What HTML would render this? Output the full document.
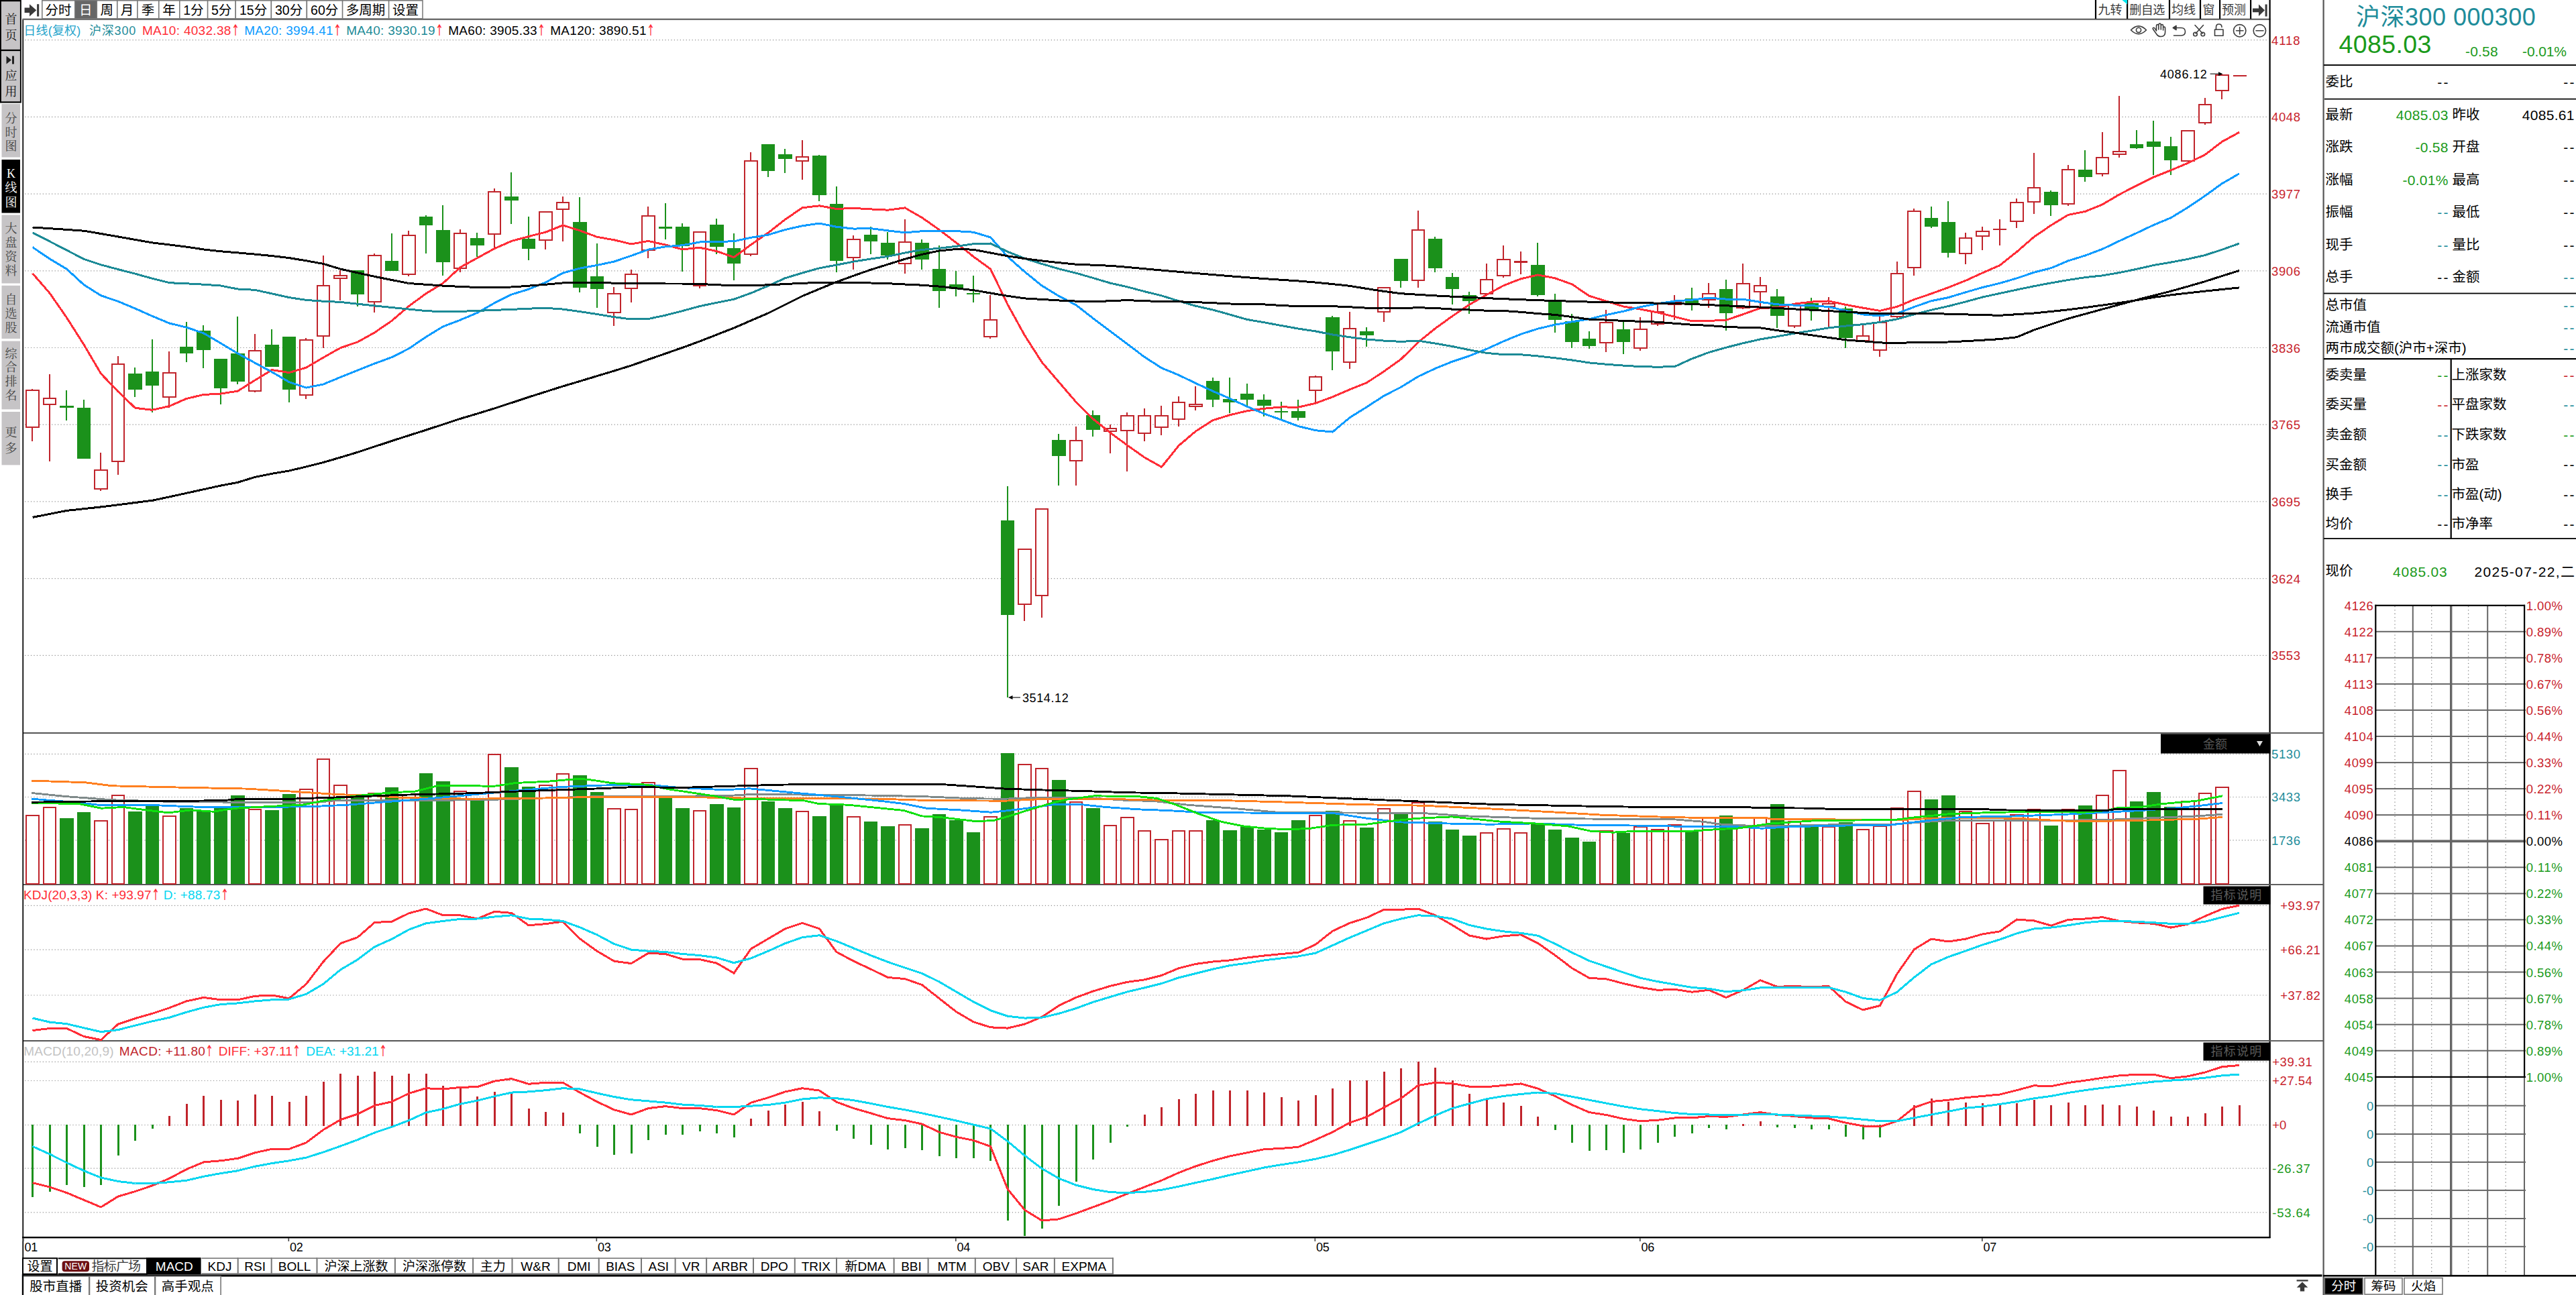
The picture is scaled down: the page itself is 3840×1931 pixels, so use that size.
<!DOCTYPE html>
<html><head><meta charset="utf-8"><title>沪深300</title>
<style>
html,body{margin:0;padding:0;background:#fff;}
body{width:3840px;height:1931px;position:relative;overflow:hidden;font-family:'Liberation Sans','Noto Sans CJK SC',sans-serif;}
svg{position:absolute;left:0;top:0;}
.t{position:absolute;white-space:nowrap;}
.a{color:#FF2D37;font-family:'DejaVu Sans',sans-serif;font-size:19px;letter-spacing:0;display:inline-block;transform:scale(0.74,1.2);transform-origin:0 60%;margin-right:-5px;}
</style></head><body>
<svg width="3840" height="1931" viewBox="0 0 3840 1931">
<rect x="0" y="0" width="31.8" height="153.5" fill="#000"/>
<rect x="1.9" y="2.2" width="28" height="71.6" fill="#C6C4C6"/>
<rect x="1.9" y="76.1" width="28" height="75.2" fill="#C6C4C6"/>
<rect x="2.5" y="155" width="27.5" height="79.5" fill="#C6C4C6"/>
<rect x="2.5" y="238" width="27.5" height="79.5" fill="#000"/>
<rect x="2.5" y="320.5" width="27.5" height="102" fill="#C6C4C6"/>
<rect x="2.5" y="425.8" width="27.5" height="79.2" fill="#C6C4C6"/>
<rect x="2.5" y="508.6" width="27.5" height="101.8" fill="#C6C4C6"/>
<rect x="2.5" y="614" width="27.5" height="79.4" fill="#C6C4C6"/>
<path d="M9.5 83.5 L17 89.5 L9.5 95.5 Z" fill="#222"/>
<rect x="18" y="83.5" width="3" height="12" fill="#222"/>
<rect x="33.4" y="28.6" width="1.7" height="1903" fill="#000"/>
<rect x="33.4" y="27.6" width="3351" height="2.3" fill="#666"/>
<rect x="3382.5" y="0" width="2.2" height="1846" fill="#000"/>
<rect x="35" y="1092" width="3428" height="2" fill="#555"/>
<rect x="35" y="1318" width="3428" height="2" fill="#555"/>
<rect x="35" y="1551" width="3428" height="2" fill="#555"/>
<rect x="33" y="1844" width="3351.5" height="2.4" fill="#000"/>
<rect x="33" y="1900" width="3428.5" height="1.2" fill="#666"/>
<rect x="33" y="1901" width="3428.5" height="2.6" fill="#000"/>
<rect x="3462.5" y="0" width="2.2" height="1931" fill="#555"/>
<rect x="62.8" y="0.8" width="49" height="27" fill="#fff" stroke="#777" stroke-width="1.5"/>
<rect x="111.8" y="0.8" width="32.6" height="27" fill="#666" stroke="#777" stroke-width="1.5"/>
<rect x="144.3" y="0.8" width="30.4" height="27" fill="#fff" stroke="#777" stroke-width="1.5"/>
<rect x="174.8" y="0.8" width="30.2" height="27" fill="#fff" stroke="#777" stroke-width="1.5"/>
<rect x="204.9" y="0.8" width="31.8" height="27" fill="#fff" stroke="#777" stroke-width="1.5"/>
<rect x="236.8" y="0.8" width="31" height="27" fill="#fff" stroke="#777" stroke-width="1.5"/>
<rect x="267.8" y="0.8" width="41.8" height="27" fill="#fff" stroke="#777" stroke-width="1.5"/>
<rect x="309.6" y="0.8" width="41.7" height="27" fill="#fff" stroke="#777" stroke-width="1.5"/>
<rect x="351.2" y="0.8" width="53.2" height="27" fill="#fff" stroke="#777" stroke-width="1.5"/>
<rect x="404.4" y="0.8" width="52.9" height="27" fill="#fff" stroke="#777" stroke-width="1.5"/>
<rect x="457.4" y="0.8" width="53.2" height="27" fill="#fff" stroke="#777" stroke-width="1.5"/>
<rect x="510.6" y="0.8" width="69.1" height="27" fill="#fff" stroke="#777" stroke-width="1.5"/>
<rect x="579.6" y="0.8" width="50.4" height="27" fill="#fff" stroke="#777" stroke-width="1.5"/>
<path d="M36.6 11.6 L44 11.6 L44 6.2 L54.3 15.3 L44 24.5 L44 19 L36.6 19 Z" fill="#3a3a3a"/>
<rect x="55.1" y="6.2" width="3.1" height="18.3" fill="#3a3a3a"/>
<rect x="3122.9" y="0" width="2.2" height="28" fill="#000"/>
<rect x="3170" y="0" width="2.2" height="28" fill="#000"/>
<rect x="3232.9" y="0" width="2.2" height="28" fill="#000"/>
<rect x="3278.9" y="0" width="2.2" height="28" fill="#000"/>
<rect x="3308" y="0" width="2.2" height="28" fill="#000"/>
<rect x="3354" y="0" width="2.2" height="28" fill="#000"/>
<path d="M3163.5 0 L3171 0 L3171 6.6 Z" fill="#00E5EE"/>
<path d="M3358 12.5 L3367 12.5 L3367 6.5 L3376 15.3 L3367 24 L3367 18.2 L3358 18.2 Z" fill="#3a3a3a"/>
<rect x="3376.6" y="6.5" width="3" height="18" fill="#3a3a3a"/>
<g stroke="#3c3c3c" stroke-width="1.6" fill="none" stroke-linecap="round" stroke-linejoin="round">
<path d="M3176.5 44.8 Q3188 33 3199.5 44.8 Q3188 56.5 3176.5 44.8 Z"/><circle cx="3188" cy="44.8" r="3.6"/>
<path d="M3214.5 46 V39 Q3214.5 36.5 3216.2 36.5 Q3217.8 36.5 3217.8 39 V44 M3217.8 38 Q3217.8 35 3219.6 35 Q3221.3 35 3221.3 38 V44 M3221.3 39 Q3221.3 36.5 3223 36.5 Q3224.6 36.5 3224.6 39 V45 M3224.6 42 Q3224.6 40 3226.2 40 Q3227.6 40 3227.6 42.5 V48 Q3227.6 54.5 3221.5 54.5 Q3217 54.5 3214.8 51 L3209.5 43.5 Q3208.6 41.5 3210.3 41.2 Q3211.8 41 3214.5 46"/>
<path d="M3242 41.5 H3251.5 Q3257.5 41.5 3257.5 47.3 Q3257.5 53 3251.5 53 H3240.5"/><path d="M3244 38.3 L3239.3 41.5 L3244 44.5 Z" fill="#3c3c3c"/>
<path d="M3272 37.5 L3283.5 50 M3284.5 37.5 L3273 50"/><circle cx="3272.5" cy="51" r="2.8"/><circle cx="3283.8" cy="51" r="2.8"/>
<rect x="3301.5" y="44" width="12.5" height="9.3"/><path d="M3303.5 44 V40.5 Q3303.5 36 3307.7 36 Q3312 36 3312 40.5"/>
<circle cx="3338.7" cy="45.8" r="9.2"/><path d="M3333.5 45.8 H3344 M3338.7 40.5 V51"/>
<circle cx="3368.4" cy="45.8" r="9.2"/><path d="M3363 45.8 H3374"/>
</g>
<line x1="37" y1="59.7" x2="3382" y2="59.7" stroke="#8e8e8e" stroke-width="1.2" stroke-dasharray="1.2 3.26"/>
<line x1="37" y1="174.4" x2="3382" y2="174.4" stroke="#8e8e8e" stroke-width="1.2" stroke-dasharray="1.2 3.26"/>
<line x1="37" y1="289.1" x2="3382" y2="289.1" stroke="#8e8e8e" stroke-width="1.2" stroke-dasharray="1.2 3.26"/>
<line x1="37" y1="403.8" x2="3382" y2="403.8" stroke="#8e8e8e" stroke-width="1.2" stroke-dasharray="1.2 3.26"/>
<line x1="37" y1="518.5" x2="3382" y2="518.5" stroke="#8e8e8e" stroke-width="1.2" stroke-dasharray="1.2 3.26"/>
<line x1="37" y1="633.2" x2="3382" y2="633.2" stroke="#8e8e8e" stroke-width="1.2" stroke-dasharray="1.2 3.26"/>
<line x1="37" y1="747.9" x2="3382" y2="747.9" stroke="#8e8e8e" stroke-width="1.2" stroke-dasharray="1.2 3.26"/>
<line x1="37" y1="862.6" x2="3382" y2="862.6" stroke="#8e8e8e" stroke-width="1.2" stroke-dasharray="1.2 3.26"/>
<line x1="37" y1="977.3" x2="3382" y2="977.3" stroke="#8e8e8e" stroke-width="1.2" stroke-dasharray="1.2 3.26"/>
<line x1="37" y1="1124.4" x2="3382" y2="1124.4" stroke="#8e8e8e" stroke-width="1.2" stroke-dasharray="1.2 3.26"/>
<line x1="37" y1="1188.5" x2="3382" y2="1188.5" stroke="#8e8e8e" stroke-width="1.2" stroke-dasharray="1.2 3.26"/>
<line x1="37" y1="1252.9" x2="3382" y2="1252.9" stroke="#8e8e8e" stroke-width="1.2" stroke-dasharray="1.2 3.26"/>
<line x1="37" y1="1350.4" x2="3382" y2="1350.4" stroke="#8e8e8e" stroke-width="1.2" stroke-dasharray="1.2 3.26"/>
<line x1="37" y1="1416.1" x2="3382" y2="1416.1" stroke="#8e8e8e" stroke-width="1.2" stroke-dasharray="1.2 3.26"/>
<line x1="37" y1="1484" x2="3382" y2="1484" stroke="#8e8e8e" stroke-width="1.2" stroke-dasharray="1.2 3.26"/>
<line x1="37" y1="1583.4" x2="3382" y2="1583.4" stroke="#8e8e8e" stroke-width="1.2" stroke-dasharray="1.2 3.26"/>
<line x1="37" y1="1611.5" x2="3382" y2="1611.5" stroke="#8e8e8e" stroke-width="1.2" stroke-dasharray="1.2 3.26"/>
<line x1="37" y1="1677.5" x2="3382" y2="1677.5" stroke="#8e8e8e" stroke-width="1.2" stroke-dasharray="1.2 3.26"/>
<line x1="37" y1="1742.2" x2="3382" y2="1742.2" stroke="#8e8e8e" stroke-width="1.2" stroke-dasharray="1.2 3.26"/>
<line x1="37" y1="1807.8" x2="3382" y2="1807.8" stroke="#8e8e8e" stroke-width="1.2" stroke-dasharray="1.2 3.26"/>
<rect x="3384.5" y="1092.2" width="78" height="1.5" fill="#666"/>
<rect x="3384.5" y="1318.2" width="78" height="1.5" fill="#666"/>
<rect x="3384.5" y="1551.2" width="78" height="1.5" fill="#666"/>
<g shape-rendering="crispEdges">
<rect x="47" y="579.7" width="2" height="1" fill="#C0242B"/>
<rect x="47" y="637.5" width="2" height="20.1" fill="#C0242B"/>
<rect x="39.3" y="581.7" width="18.4" height="54.8" fill="#fff" stroke="#C0242B" stroke-width="2"/>
<rect x="72.5" y="558.2" width="2" height="34.6" fill="#C0242B"/>
<rect x="72.5" y="604.4" width="2" height="83.3" fill="#C0242B"/>
<rect x="64.8" y="593.8" width="18.4" height="9.6" fill="#fff" stroke="#C0242B" stroke-width="2"/>
<rect x="98" y="582.3" width="2" height="22.9" fill="#1B911B"/>
<rect x="98" y="607.9" width="2" height="19" fill="#1B911B"/>
<rect x="89.3" y="605.2" width="20.4" height="2.7" fill="#1B911B"/>
<rect x="123.5" y="596.4" width="2" height="12" fill="#1B911B"/>
<rect x="114.8" y="608.4" width="20.4" height="75.3" fill="#1B911B"/>
<rect x="149" y="675.3" width="2" height="25.1" fill="#C0242B"/>
<rect x="149" y="730.3" width="2" height="1.2" fill="#C0242B"/>
<rect x="141.3" y="701.4" width="18.4" height="27.9" fill="#fff" stroke="#C0242B" stroke-width="2"/>
<rect x="174.5" y="531.1" width="2" height="10.7" fill="#C0242B"/>
<rect x="174.5" y="689.1" width="2" height="18.7" fill="#C0242B"/>
<rect x="166.8" y="542.8" width="18.4" height="145.3" fill="#fff" stroke="#C0242B" stroke-width="2"/>
<rect x="200" y="548.2" width="2" height="9" fill="#1B911B"/>
<rect x="200" y="580.7" width="2" height="11.3" fill="#1B911B"/>
<rect x="191.3" y="557.2" width="20.4" height="23.5" fill="#1B911B"/>
<rect x="225.5" y="506" width="2" height="48.2" fill="#1B911B"/>
<rect x="225.5" y="574.7" width="2" height="40.1" fill="#1B911B"/>
<rect x="216.8" y="554.2" width="20.4" height="20.5" fill="#1B911B"/>
<rect x="251" y="524.1" width="2" height="30.5" fill="#C0242B"/>
<rect x="251" y="593.4" width="2" height="15" fill="#C0242B"/>
<rect x="243.3" y="555.6" width="18.4" height="36.8" fill="#fff" stroke="#C0242B" stroke-width="2"/>
<rect x="276.5" y="480.4" width="2" height="36.7" fill="#1B911B"/>
<rect x="276.5" y="526.7" width="2" height="13.1" fill="#1B911B"/>
<rect x="267.8" y="517.1" width="20.4" height="9.6" fill="#1B911B"/>
<rect x="302" y="485" width="2" height="8" fill="#1B911B"/>
<rect x="302" y="521.7" width="2" height="27.1" fill="#1B911B"/>
<rect x="293.3" y="493" width="20.4" height="28.7" fill="#1B911B"/>
<rect x="327.5" y="578.7" width="2" height="24.1" fill="#1B911B"/>
<rect x="318.8" y="535.1" width="20.4" height="43.6" fill="#1B911B"/>
<rect x="353" y="471.5" width="2" height="55.9" fill="#1B911B"/>
<rect x="353" y="568.5" width="2" height="4.2" fill="#1B911B"/>
<rect x="344.3" y="527.4" width="20.4" height="41.1" fill="#1B911B"/>
<rect x="378.5" y="498.4" width="2" height="23.3" fill="#C0242B"/>
<rect x="378.5" y="584.1" width="2" height="1.3" fill="#C0242B"/>
<rect x="370.8" y="522.7" width="18.4" height="60.4" fill="#fff" stroke="#C0242B" stroke-width="2"/>
<rect x="404" y="490.9" width="2" height="23.4" fill="#1B911B"/>
<rect x="395.3" y="514.3" width="20.4" height="33" fill="#1B911B"/>
<rect x="429.5" y="581.4" width="2" height="18.2" fill="#1B911B"/>
<rect x="420.8" y="502" width="20.4" height="79.4" fill="#1B911B"/>
<rect x="455" y="504.3" width="2" height="1.3" fill="#C0242B"/>
<rect x="455" y="590.1" width="2" height="4.5" fill="#C0242B"/>
<rect x="447.3" y="506.6" width="18.4" height="82.5" fill="#fff" stroke="#C0242B" stroke-width="2"/>
<rect x="480.5" y="381.2" width="2" height="43.6" fill="#C0242B"/>
<rect x="480.5" y="502.1" width="2" height="17.1" fill="#C0242B"/>
<rect x="472.8" y="425.8" width="18.4" height="75.3" fill="#fff" stroke="#C0242B" stroke-width="2"/>
<rect x="506" y="403.1" width="2" height="7.7" fill="#C0242B"/>
<rect x="506" y="415.1" width="2" height="32.8" fill="#C0242B"/>
<rect x="498.3" y="410.8" width="18.4" height="4.3" fill="#fff" stroke="#C0242B" stroke-width="2"/>
<rect x="499.3" y="412.4" width="16.4" height="1.1" fill="#fff"/>
<rect x="531.5" y="439.4" width="2" height="17.2" fill="#1B911B"/>
<rect x="522.8" y="403" width="20.4" height="36.4" fill="#1B911B"/>
<rect x="557" y="378.3" width="2" height="1.2" fill="#C0242B"/>
<rect x="557" y="451.1" width="2" height="14.7" fill="#C0242B"/>
<rect x="549.3" y="380.5" width="18.4" height="69.6" fill="#fff" stroke="#C0242B" stroke-width="2"/>
<rect x="582.5" y="347.9" width="2" height="41.3" fill="#1B911B"/>
<rect x="573.8" y="389.2" width="20.4" height="14.7" fill="#1B911B"/>
<rect x="608" y="344" width="2" height="5.7" fill="#C0242B"/>
<rect x="608" y="410.3" width="2" height="1.5" fill="#C0242B"/>
<rect x="600.3" y="350.7" width="18.4" height="58.6" fill="#fff" stroke="#C0242B" stroke-width="2"/>
<rect x="633.5" y="321.1" width="2" height="2" fill="#1B911B"/>
<rect x="633.5" y="335.5" width="2" height="42" fill="#1B911B"/>
<rect x="624.8" y="323.1" width="20.4" height="12.4" fill="#1B911B"/>
<rect x="659" y="306.2" width="2" height="36.8" fill="#1B911B"/>
<rect x="659" y="391.4" width="2" height="19.4" fill="#1B911B"/>
<rect x="650.3" y="343" width="20.4" height="48.4" fill="#1B911B"/>
<rect x="684.5" y="342.2" width="2" height="4.5" fill="#C0242B"/>
<rect x="684.5" y="401.1" width="2" height="4.5" fill="#C0242B"/>
<rect x="676.8" y="347.7" width="18.4" height="52.4" fill="#fff" stroke="#C0242B" stroke-width="2"/>
<rect x="710" y="347.2" width="2" height="8.2" fill="#1B911B"/>
<rect x="710" y="365.6" width="2" height="17.6" fill="#1B911B"/>
<rect x="701.3" y="355.4" width="20.4" height="10.2" fill="#1B911B"/>
<rect x="735.5" y="281" width="2" height="3.8" fill="#C0242B"/>
<rect x="735.5" y="349.9" width="2" height="19.2" fill="#C0242B"/>
<rect x="727.8" y="285.8" width="18.4" height="63.1" fill="#fff" stroke="#C0242B" stroke-width="2"/>
<rect x="761" y="256.7" width="2" height="36.5" fill="#1B911B"/>
<rect x="761" y="298.7" width="2" height="35.3" fill="#1B911B"/>
<rect x="752.3" y="293.2" width="20.4" height="5.5" fill="#1B911B"/>
<rect x="786.5" y="323.1" width="2" height="33" fill="#1B911B"/>
<rect x="786.5" y="370.6" width="2" height="17.1" fill="#1B911B"/>
<rect x="777.8" y="356.1" width="20.4" height="14.5" fill="#1B911B"/>
<rect x="812" y="359.1" width="2" height="12.5" fill="#C0242B"/>
<rect x="804.3" y="315.6" width="18.4" height="42.5" fill="#fff" stroke="#C0242B" stroke-width="2"/>
<rect x="837.5" y="293" width="2" height="8.4" fill="#C0242B"/>
<rect x="837.5" y="313.4" width="2" height="46.2" fill="#C0242B"/>
<rect x="829.8" y="302.4" width="18.4" height="10" fill="#fff" stroke="#C0242B" stroke-width="2"/>
<rect x="863" y="294.2" width="2" height="37.1" fill="#1B911B"/>
<rect x="863" y="428.5" width="2" height="7.2" fill="#1B911B"/>
<rect x="854.3" y="331.3" width="20.4" height="97.2" fill="#1B911B"/>
<rect x="888.5" y="363.3" width="2" height="49" fill="#1B911B"/>
<rect x="888.5" y="430.5" width="2" height="28.1" fill="#1B911B"/>
<rect x="879.8" y="412.3" width="20.4" height="18.2" fill="#1B911B"/>
<rect x="914" y="428.3" width="2" height="8.5" fill="#C0242B"/>
<rect x="914" y="467.4" width="2" height="18.1" fill="#C0242B"/>
<rect x="906.3" y="437.8" width="18.4" height="28.6" fill="#fff" stroke="#C0242B" stroke-width="2"/>
<rect x="939.5" y="402.3" width="2" height="5.5" fill="#C0242B"/>
<rect x="939.5" y="431.3" width="2" height="19.3" fill="#C0242B"/>
<rect x="931.8" y="408.8" width="18.4" height="21.5" fill="#fff" stroke="#C0242B" stroke-width="2"/>
<rect x="965" y="308.3" width="2" height="12.4" fill="#C0242B"/>
<rect x="965" y="374.2" width="2" height="10.4" fill="#C0242B"/>
<rect x="957.3" y="321.7" width="18.4" height="51.5" fill="#fff" stroke="#C0242B" stroke-width="2"/>
<rect x="990.5" y="303.3" width="2" height="34.9" fill="#1B911B"/>
<rect x="990.5" y="341" width="2" height="15.7" fill="#1B911B"/>
<rect x="981.8" y="338.2" width="20.4" height="2.8" fill="#1B911B"/>
<rect x="1016" y="333.1" width="2" height="5.2" fill="#1B911B"/>
<rect x="1016" y="366.7" width="2" height="37.8" fill="#1B911B"/>
<rect x="1007.3" y="338.3" width="20.4" height="28.4" fill="#1B911B"/>
<rect x="1041.5" y="427.1" width="2" height="2.5" fill="#C0242B"/>
<rect x="1033.8" y="345.8" width="18.4" height="80.3" fill="#fff" stroke="#C0242B" stroke-width="2"/>
<rect x="1067" y="326.4" width="2" height="8.7" fill="#1B911B"/>
<rect x="1067" y="367.7" width="2" height="10.9" fill="#1B911B"/>
<rect x="1058.3" y="335.1" width="20.4" height="32.6" fill="#1B911B"/>
<rect x="1092.5" y="348.3" width="2" height="21.9" fill="#1B911B"/>
<rect x="1092.5" y="392.5" width="2" height="25.2" fill="#1B911B"/>
<rect x="1083.8" y="370.2" width="20.4" height="22.3" fill="#1B911B"/>
<rect x="1118" y="227" width="2" height="12.4" fill="#C0242B"/>
<rect x="1118" y="380.4" width="2" height="1.2" fill="#C0242B"/>
<rect x="1110.3" y="240.4" width="18.4" height="139" fill="#fff" stroke="#C0242B" stroke-width="2"/>
<rect x="1143.5" y="254.7" width="2" height="9.2" fill="#1B911B"/>
<rect x="1134.8" y="215.1" width="20.4" height="39.6" fill="#1B911B"/>
<rect x="1169" y="222" width="2" height="8" fill="#1B911B"/>
<rect x="1169" y="236.8" width="2" height="21" fill="#1B911B"/>
<rect x="1160.3" y="230" width="20.4" height="6.8" fill="#1B911B"/>
<rect x="1194.5" y="209" width="2" height="24.2" fill="#C0242B"/>
<rect x="1194.5" y="241.4" width="2" height="26.5" fill="#C0242B"/>
<rect x="1186.8" y="234.2" width="18.4" height="6.2" fill="#fff" stroke="#C0242B" stroke-width="2"/>
<rect x="1220" y="231" width="2" height="1.2" fill="#1B911B"/>
<rect x="1220" y="290.7" width="2" height="9.2" fill="#1B911B"/>
<rect x="1211.3" y="232.2" width="20.4" height="58.5" fill="#1B911B"/>
<rect x="1245.5" y="278.2" width="2" height="26" fill="#1B911B"/>
<rect x="1245.5" y="388.6" width="2" height="17.1" fill="#1B911B"/>
<rect x="1236.8" y="304.2" width="20.4" height="84.4" fill="#1B911B"/>
<rect x="1271" y="351.3" width="2" height="4.5" fill="#C0242B"/>
<rect x="1271" y="385.1" width="2" height="16.7" fill="#C0242B"/>
<rect x="1263.3" y="356.8" width="18.4" height="27.3" fill="#fff" stroke="#C0242B" stroke-width="2"/>
<rect x="1296.5" y="338.1" width="2" height="11.9" fill="#1B911B"/>
<rect x="1296.5" y="359.7" width="2" height="18.9" fill="#1B911B"/>
<rect x="1287.8" y="350" width="20.4" height="9.7" fill="#1B911B"/>
<rect x="1322" y="346.1" width="2" height="16.1" fill="#1B911B"/>
<rect x="1322" y="380.6" width="2" height="6" fill="#1B911B"/>
<rect x="1313.3" y="362.2" width="20.4" height="18.4" fill="#1B911B"/>
<rect x="1347.5" y="327.4" width="2" height="32.3" fill="#C0242B"/>
<rect x="1347.5" y="394" width="2" height="13.7" fill="#C0242B"/>
<rect x="1339.8" y="360.7" width="18.4" height="32.3" fill="#fff" stroke="#C0242B" stroke-width="2"/>
<rect x="1373" y="357" width="2" height="5.2" fill="#1B911B"/>
<rect x="1373" y="386.6" width="2" height="15.2" fill="#1B911B"/>
<rect x="1364.3" y="362.2" width="20.4" height="24.4" fill="#1B911B"/>
<rect x="1398.5" y="366.2" width="2" height="35.1" fill="#1B911B"/>
<rect x="1398.5" y="433.6" width="2" height="25.1" fill="#1B911B"/>
<rect x="1389.8" y="401.3" width="20.4" height="32.3" fill="#1B911B"/>
<rect x="1424" y="404.2" width="2" height="19.9" fill="#1B911B"/>
<rect x="1424" y="431.3" width="2" height="10.5" fill="#1B911B"/>
<rect x="1415.3" y="424.1" width="20.4" height="7.2" fill="#1B911B"/>
<rect x="1449.5" y="411" width="2" height="26" fill="#1B911B"/>
<rect x="1449.5" y="439.2" width="2" height="11.5" fill="#1B911B"/>
<rect x="1440.8" y="437" width="20.4" height="2.4" fill="#1B911B"/>
<rect x="1475" y="440" width="2" height="35.6" fill="#C0242B"/>
<rect x="1475" y="503" width="2" height="1.7" fill="#C0242B"/>
<rect x="1467.3" y="476.6" width="18.4" height="25.4" fill="#fff" stroke="#C0242B" stroke-width="2"/>
<rect x="1500.5" y="725.3" width="2" height="50.7" fill="#1B911B"/>
<rect x="1500.5" y="916.5" width="2" height="123.3" fill="#1B911B"/>
<rect x="1491.8" y="776" width="20.4" height="140.5" fill="#1B911B"/>
<rect x="1526" y="902.3" width="2" height="24.1" fill="#C0242B"/>
<rect x="1518.3" y="818.7" width="18.4" height="82.6" fill="#fff" stroke="#C0242B" stroke-width="2"/>
<rect x="1551.5" y="889" width="2" height="31.5" fill="#C0242B"/>
<rect x="1543.8" y="759.4" width="18.4" height="128.6" fill="#fff" stroke="#C0242B" stroke-width="2"/>
<rect x="1577" y="647" width="2" height="9" fill="#1B911B"/>
<rect x="1577" y="679.6" width="2" height="44.5" fill="#1B911B"/>
<rect x="1568.3" y="656" width="20.4" height="23.6" fill="#1B911B"/>
<rect x="1602.5" y="636.1" width="2" height="19.4" fill="#C0242B"/>
<rect x="1602.5" y="688.3" width="2" height="35.8" fill="#C0242B"/>
<rect x="1594.8" y="656.5" width="18.4" height="30.8" fill="#fff" stroke="#C0242B" stroke-width="2"/>
<rect x="1628" y="612" width="2" height="7.2" fill="#1B911B"/>
<rect x="1628" y="640.6" width="2" height="10.2" fill="#1B911B"/>
<rect x="1619.3" y="619.2" width="20.4" height="21.4" fill="#1B911B"/>
<rect x="1653.5" y="633.3" width="2" height="4.3" fill="#C0242B"/>
<rect x="1653.5" y="644.3" width="2" height="31.6" fill="#C0242B"/>
<rect x="1645.8" y="638.6" width="18.4" height="4.7" fill="#fff" stroke="#C0242B" stroke-width="2"/>
<rect x="1679" y="615.2" width="2" height="4.2" fill="#C0242B"/>
<rect x="1679" y="643" width="2" height="60" fill="#C0242B"/>
<rect x="1671.3" y="620.4" width="18.4" height="21.6" fill="#fff" stroke="#C0242B" stroke-width="2"/>
<rect x="1704.5" y="609" width="2" height="10.4" fill="#C0242B"/>
<rect x="1704.5" y="647.3" width="2" height="10.7" fill="#C0242B"/>
<rect x="1696.8" y="620.4" width="18.4" height="25.9" fill="#fff" stroke="#C0242B" stroke-width="2"/>
<rect x="1730" y="605" width="2" height="14.4" fill="#C0242B"/>
<rect x="1730" y="638.3" width="2" height="10.5" fill="#C0242B"/>
<rect x="1722.3" y="620.4" width="18.4" height="16.9" fill="#fff" stroke="#C0242B" stroke-width="2"/>
<rect x="1755.5" y="591.1" width="2" height="7.4" fill="#C0242B"/>
<rect x="1755.5" y="626.4" width="2" height="9.4" fill="#C0242B"/>
<rect x="1747.8" y="599.5" width="18.4" height="25.9" fill="#fff" stroke="#C0242B" stroke-width="2"/>
<rect x="1781" y="576.2" width="2" height="25.6" fill="#C0242B"/>
<rect x="1781" y="607" width="2" height="5" fill="#C0242B"/>
<rect x="1773.3" y="602.8" width="18.4" height="3.2" fill="#fff" stroke="#C0242B" stroke-width="2"/>
<rect x="1806.5" y="563" width="2" height="5" fill="#1B911B"/>
<rect x="1806.5" y="595.6" width="2" height="11.1" fill="#1B911B"/>
<rect x="1797.8" y="568" width="20.4" height="27.6" fill="#1B911B"/>
<rect x="1832" y="563" width="2" height="32.3" fill="#1B911B"/>
<rect x="1832" y="599.5" width="2" height="16.4" fill="#1B911B"/>
<rect x="1823.3" y="595.3" width="20.4" height="4.2" fill="#1B911B"/>
<rect x="1857.5" y="571.9" width="2" height="15.2" fill="#1B911B"/>
<rect x="1857.5" y="595.6" width="2" height="9.2" fill="#1B911B"/>
<rect x="1848.8" y="587.1" width="20.4" height="8.5" fill="#1B911B"/>
<rect x="1883" y="588.1" width="2" height="8.2" fill="#1B911B"/>
<rect x="1883" y="604.8" width="2" height="16.4" fill="#1B911B"/>
<rect x="1874.3" y="596.3" width="20.4" height="8.5" fill="#1B911B"/>
<rect x="1908.5" y="599" width="2" height="13.7" fill="#1B911B"/>
<rect x="1908.5" y="614.9" width="2" height="10.2" fill="#1B911B"/>
<rect x="1899.8" y="612.7" width="20.4" height="2.4" fill="#1B911B"/>
<rect x="1934" y="596" width="2" height="17" fill="#1B911B"/>
<rect x="1934" y="622.7" width="2" height="4.4" fill="#1B911B"/>
<rect x="1925.3" y="613" width="20.4" height="9.7" fill="#1B911B"/>
<rect x="1959.5" y="559.8" width="2" height="0.7" fill="#C0242B"/>
<rect x="1959.5" y="583" width="2" height="18.5" fill="#C0242B"/>
<rect x="1951.8" y="561.5" width="18.4" height="20.5" fill="#fff" stroke="#C0242B" stroke-width="2"/>
<rect x="1985" y="471" width="2" height="2.2" fill="#1B911B"/>
<rect x="1985" y="523.7" width="2" height="27.9" fill="#1B911B"/>
<rect x="1976.3" y="473.2" width="20.4" height="50.5" fill="#1B911B"/>
<rect x="2010.5" y="465.3" width="2" height="23.4" fill="#C0242B"/>
<rect x="2010.5" y="541.1" width="2" height="8.7" fill="#C0242B"/>
<rect x="2002.8" y="489.7" width="18.4" height="50.4" fill="#fff" stroke="#C0242B" stroke-width="2"/>
<rect x="2036" y="488.2" width="2" height="6.2" fill="#1B911B"/>
<rect x="2036" y="499.6" width="2" height="17.2" fill="#1B911B"/>
<rect x="2027.3" y="494.4" width="20.4" height="5.2" fill="#1B911B"/>
<rect x="2061.5" y="466.3" width="2" height="13.7" fill="#C0242B"/>
<rect x="2053.8" y="428.5" width="18.4" height="36.8" fill="#fff" stroke="#C0242B" stroke-width="2"/>
<rect x="2087" y="418.5" width="2" height="10.2" fill="#1B911B"/>
<rect x="2078.3" y="386.2" width="20.4" height="32.3" fill="#1B911B"/>
<rect x="2112.5" y="314.1" width="2" height="27.6" fill="#C0242B"/>
<rect x="2112.5" y="419.3" width="2" height="9.4" fill="#C0242B"/>
<rect x="2104.8" y="342.7" width="18.4" height="75.6" fill="#fff" stroke="#C0242B" stroke-width="2"/>
<rect x="2138" y="353.2" width="2" height="2.9" fill="#1B911B"/>
<rect x="2138" y="400.4" width="2" height="5.5" fill="#1B911B"/>
<rect x="2129.3" y="356.1" width="20.4" height="44.3" fill="#1B911B"/>
<rect x="2163.5" y="406.9" width="2" height="6.2" fill="#1B911B"/>
<rect x="2163.5" y="430.5" width="2" height="23.3" fill="#1B911B"/>
<rect x="2154.8" y="413.1" width="20.4" height="17.4" fill="#1B911B"/>
<rect x="2189" y="435" width="2" height="5.2" fill="#1B911B"/>
<rect x="2189" y="449.4" width="2" height="18.6" fill="#1B911B"/>
<rect x="2180.3" y="440.2" width="20.4" height="9.2" fill="#1B911B"/>
<rect x="2214.5" y="392.9" width="2" height="22.7" fill="#C0242B"/>
<rect x="2206.8" y="416.6" width="18.4" height="21.6" fill="#fff" stroke="#C0242B" stroke-width="2"/>
<rect x="2240" y="366.1" width="2" height="19.4" fill="#C0242B"/>
<rect x="2240" y="412.3" width="2" height="1.3" fill="#C0242B"/>
<rect x="2232.3" y="386.5" width="18.4" height="24.8" fill="#fff" stroke="#C0242B" stroke-width="2"/>
<rect x="2265.5" y="375" width="2" height="14" fill="#C0242B"/>
<rect x="2265.5" y="391.8" width="2" height="17" fill="#C0242B"/>
<rect x="2256.8" y="389" width="20.4" height="2.8" fill="#C0242B"/>
<rect x="2291" y="362.1" width="2" height="33.1" fill="#1B911B"/>
<rect x="2291" y="440.4" width="2" height="1.3" fill="#1B911B"/>
<rect x="2282.3" y="395.2" width="20.4" height="45.2" fill="#1B911B"/>
<rect x="2316.5" y="438.2" width="2" height="12.2" fill="#1B911B"/>
<rect x="2316.5" y="476.5" width="2" height="19.4" fill="#1B911B"/>
<rect x="2307.8" y="450.4" width="20.4" height="26.1" fill="#1B911B"/>
<rect x="2342" y="468" width="2" height="11" fill="#1B911B"/>
<rect x="2342" y="509.5" width="2" height="9.2" fill="#1B911B"/>
<rect x="2333.3" y="479" width="20.4" height="30.5" fill="#1B911B"/>
<rect x="2367.5" y="494.1" width="2" height="11" fill="#1B911B"/>
<rect x="2367.5" y="515.5" width="2" height="4.2" fill="#1B911B"/>
<rect x="2358.8" y="505.1" width="20.4" height="10.4" fill="#1B911B"/>
<rect x="2393" y="462.1" width="2" height="17.4" fill="#C0242B"/>
<rect x="2393" y="512" width="2" height="12.5" fill="#C0242B"/>
<rect x="2385.3" y="480.5" width="18.4" height="30.5" fill="#fff" stroke="#C0242B" stroke-width="2"/>
<rect x="2418.5" y="480.2" width="2" height="10.9" fill="#1B911B"/>
<rect x="2418.5" y="509.5" width="2" height="18.4" fill="#1B911B"/>
<rect x="2409.8" y="491.1" width="20.4" height="18.4" fill="#1B911B"/>
<rect x="2444" y="473.2" width="2" height="17.2" fill="#C0242B"/>
<rect x="2444" y="520.2" width="2" height="2.5" fill="#C0242B"/>
<rect x="2436.3" y="491.4" width="18.4" height="27.8" fill="#fff" stroke="#C0242B" stroke-width="2"/>
<rect x="2469.5" y="453.4" width="2" height="10.4" fill="#C0242B"/>
<rect x="2469.5" y="484.2" width="2" height="1.5" fill="#C0242B"/>
<rect x="2461.8" y="464.8" width="18.4" height="18.4" fill="#fff" stroke="#C0242B" stroke-width="2"/>
<rect x="2495" y="440.2" width="2" height="8.9" fill="#C0242B"/>
<rect x="2495" y="455.1" width="2" height="21.4" fill="#C0242B"/>
<rect x="2487.3" y="450.1" width="18.4" height="4" fill="#fff" stroke="#C0242B" stroke-width="2"/>
<rect x="2520.5" y="429.2" width="2" height="15.4" fill="#1B911B"/>
<rect x="2520.5" y="452.9" width="2" height="9.9" fill="#1B911B"/>
<rect x="2511.8" y="444.6" width="20.4" height="8.3" fill="#1B911B"/>
<rect x="2546" y="422.3" width="2" height="14.4" fill="#C0242B"/>
<rect x="2546" y="448" width="2" height="11" fill="#C0242B"/>
<rect x="2538.3" y="437.7" width="18.4" height="9.3" fill="#fff" stroke="#C0242B" stroke-width="2"/>
<rect x="2571.5" y="417.3" width="2" height="13.9" fill="#1B911B"/>
<rect x="2571.5" y="467.4" width="2" height="25.5" fill="#1B911B"/>
<rect x="2562.8" y="431.2" width="20.4" height="36.2" fill="#1B911B"/>
<rect x="2597" y="393.4" width="2" height="28.1" fill="#C0242B"/>
<rect x="2597" y="460" width="2" height="1.3" fill="#C0242B"/>
<rect x="2589.3" y="422.5" width="18.4" height="36.5" fill="#fff" stroke="#C0242B" stroke-width="2"/>
<rect x="2622.5" y="413.3" width="2" height="11.2" fill="#C0242B"/>
<rect x="2622.5" y="436.4" width="2" height="22.4" fill="#C0242B"/>
<rect x="2614.8" y="425.5" width="18.4" height="9.9" fill="#fff" stroke="#C0242B" stroke-width="2"/>
<rect x="2648" y="431" width="2" height="11.1" fill="#1B911B"/>
<rect x="2648" y="470.5" width="2" height="18.1" fill="#1B911B"/>
<rect x="2639.3" y="442.1" width="20.4" height="28.4" fill="#1B911B"/>
<rect x="2673.5" y="487.4" width="2" height="1.2" fill="#C0242B"/>
<rect x="2665.8" y="455.3" width="18.4" height="31.1" fill="#fff" stroke="#C0242B" stroke-width="2"/>
<rect x="2699" y="443.9" width="2" height="7.9" fill="#1B911B"/>
<rect x="2699" y="460.8" width="2" height="17.1" fill="#1B911B"/>
<rect x="2690.3" y="451.8" width="20.4" height="9" fill="#1B911B"/>
<rect x="2724.5" y="443.1" width="2" height="8.7" fill="#C0242B"/>
<rect x="2724.5" y="457.6" width="2" height="29.3" fill="#C0242B"/>
<rect x="2716.8" y="452.8" width="18.4" height="3.8" fill="#fff" stroke="#C0242B" stroke-width="2"/>
<rect x="2750" y="457.1" width="2" height="3.2" fill="#1B911B"/>
<rect x="2750" y="503.6" width="2" height="15.4" fill="#1B911B"/>
<rect x="2741.3" y="460.3" width="20.4" height="43.3" fill="#1B911B"/>
<rect x="2775.5" y="484.9" width="2" height="14.7" fill="#C0242B"/>
<rect x="2767.8" y="500.6" width="18.4" height="6.9" fill="#fff" stroke="#C0242B" stroke-width="2"/>
<rect x="2801" y="470" width="2" height="9.9" fill="#C0242B"/>
<rect x="2801" y="523" width="2" height="8.6" fill="#C0242B"/>
<rect x="2793.3" y="480.9" width="18.4" height="41.1" fill="#fff" stroke="#C0242B" stroke-width="2"/>
<rect x="2826.5" y="390.2" width="2" height="16.4" fill="#C0242B"/>
<rect x="2826.5" y="473" width="2" height="2" fill="#C0242B"/>
<rect x="2818.8" y="407.6" width="18.4" height="64.4" fill="#fff" stroke="#C0242B" stroke-width="2"/>
<rect x="2852" y="311.1" width="2" height="3.2" fill="#C0242B"/>
<rect x="2852" y="400.1" width="2" height="10.7" fill="#C0242B"/>
<rect x="2844.3" y="315.3" width="18.4" height="83.8" fill="#fff" stroke="#C0242B" stroke-width="2"/>
<rect x="2877.5" y="307.9" width="2" height="17.1" fill="#1B911B"/>
<rect x="2877.5" y="338" width="2" height="2" fill="#1B911B"/>
<rect x="2868.8" y="325" width="20.4" height="13" fill="#1B911B"/>
<rect x="2903" y="299.9" width="2" height="31.1" fill="#1B911B"/>
<rect x="2903" y="376.7" width="2" height="7" fill="#1B911B"/>
<rect x="2894.3" y="331" width="20.4" height="45.7" fill="#1B911B"/>
<rect x="2928.5" y="347.4" width="2" height="6.2" fill="#C0242B"/>
<rect x="2928.5" y="379.2" width="2" height="14.5" fill="#C0242B"/>
<rect x="2920.8" y="354.6" width="18.4" height="23.6" fill="#fff" stroke="#C0242B" stroke-width="2"/>
<rect x="2954" y="338" width="2" height="5.7" fill="#C0242B"/>
<rect x="2954" y="353.1" width="2" height="19.7" fill="#C0242B"/>
<rect x="2946.3" y="344.7" width="18.4" height="7.4" fill="#fff" stroke="#C0242B" stroke-width="2"/>
<rect x="2979.5" y="327" width="2" height="13.7" fill="#C0242B"/>
<rect x="2979.5" y="342.9" width="2" height="22.9" fill="#C0242B"/>
<rect x="2970.8" y="340.7" width="20.4" height="2.4" fill="#C0242B"/>
<rect x="3005" y="296.2" width="2" height="5.2" fill="#C0242B"/>
<rect x="3005" y="331.2" width="2" height="8.8" fill="#C0242B"/>
<rect x="2997.3" y="302.4" width="18.4" height="27.8" fill="#fff" stroke="#C0242B" stroke-width="2"/>
<rect x="3030.5" y="228" width="2" height="50.5" fill="#C0242B"/>
<rect x="3030.5" y="301.9" width="2" height="16.9" fill="#C0242B"/>
<rect x="3022.8" y="279.5" width="18.4" height="21.4" fill="#fff" stroke="#C0242B" stroke-width="2"/>
<rect x="3056" y="284.2" width="2" height="2" fill="#1B911B"/>
<rect x="3056" y="305.7" width="2" height="15.8" fill="#1B911B"/>
<rect x="3047.3" y="286.2" width="20.4" height="19.5" fill="#1B911B"/>
<rect x="3081.5" y="246.2" width="2" height="5.3" fill="#C0242B"/>
<rect x="3081.5" y="305.3" width="2" height="1.2" fill="#C0242B"/>
<rect x="3073.8" y="252.5" width="18.4" height="51.8" fill="#fff" stroke="#C0242B" stroke-width="2"/>
<rect x="3107" y="224.1" width="2" height="29" fill="#1B911B"/>
<rect x="3107" y="263.5" width="2" height="7.2" fill="#1B911B"/>
<rect x="3098.3" y="253.1" width="20.4" height="10.4" fill="#1B911B"/>
<rect x="3132.5" y="197.2" width="2" height="36.4" fill="#C0242B"/>
<rect x="3132.5" y="260.3" width="2" height="3" fill="#C0242B"/>
<rect x="3124.8" y="234.6" width="18.4" height="24.7" fill="#fff" stroke="#C0242B" stroke-width="2"/>
<rect x="3158" y="143.2" width="2" height="83.2" fill="#C0242B"/>
<rect x="3158" y="230.4" width="2" height="4.2" fill="#C0242B"/>
<rect x="3150.3" y="226.4" width="18.4" height="4" fill="#fff" stroke="#C0242B" stroke-width="2"/>
<rect x="3151.3" y="228" width="16.4" height="0.8" fill="#fff"/>
<rect x="3183.5" y="194" width="2" height="21.3" fill="#1B911B"/>
<rect x="3183.5" y="220.7" width="2" height="0.8" fill="#1B911B"/>
<rect x="3174.8" y="215.3" width="20.4" height="5.4" fill="#1B911B"/>
<rect x="3209" y="180" width="2" height="31.3" fill="#1B911B"/>
<rect x="3209" y="218.7" width="2" height="42" fill="#1B911B"/>
<rect x="3200.3" y="211.3" width="20.4" height="7.4" fill="#1B911B"/>
<rect x="3234.5" y="204.1" width="2" height="14" fill="#1B911B"/>
<rect x="3234.5" y="238.6" width="2" height="22.1" fill="#1B911B"/>
<rect x="3225.8" y="218.1" width="20.4" height="20.5" fill="#1B911B"/>
<rect x="3252.3" y="194.6" width="18.4" height="45.6" fill="#fff" stroke="#C0242B" stroke-width="2"/>
<rect x="3285.5" y="146.3" width="2" height="8.4" fill="#C0242B"/>
<rect x="3285.5" y="184.4" width="2" height="2" fill="#C0242B"/>
<rect x="3277.8" y="155.7" width="18.4" height="27.7" fill="#fff" stroke="#C0242B" stroke-width="2"/>
<rect x="3311" y="136.2" width="2" height="11.7" fill="#C0242B"/>
<rect x="3303.3" y="111.5" width="18.4" height="23.7" fill="#fff" stroke="#C0242B" stroke-width="2"/>
<rect x="3329.3" y="111.6" width="19.6" height="2.2" fill="#C0242B"/>
</g>
<polyline points="48.5,407.6 74,437 99.5,473.7 125,513.8 150.5,557.2 176,583.9 201.5,608.3 227,611.3 252.5,605.6 278,594.4 303.5,588.5 329,587.1 354.5,583.1 380,567 405.5,551.6 431,555.6 456.5,548.1 482,533.1 507.5,518.7 533,510 558.5,495.8 584,478.3 609.5,456.4 635,437.8 660.5,422.2 686,398.7 711.5,384.7 737,370.7 762.5,359.5 788,352.6 813.5,346.1 839,335.9 864.5,343.8 890,353.3 915.5,357.8 941,363.9 966.5,359.4 992,365.1 1017.5,371.9 1043,369.3 1068.5,374.6 1094,383.7 1119.5,364.8 1145,347.2 1170.5,327.2 1196,309.8 1221.5,306.8 1247,311.5 1272.5,310.4 1298,311.9 1323.5,313.2 1349,309.9 1374.5,324.6 1400,342.5 1425.5,362 1451,382.6 1476.5,401.1 1502,453.9 1527.5,500.1 1553,539.9 1578.5,569.8 1604,599.4 1629.5,624.8 1655,645.2 1680.5,664 1706,682 1731.5,696.4 1757,664.6 1782.5,643 1808,626.7 1833.5,618.7 1859,612.7 1884.5,609.2 1910,606.9 1935.5,607.2 1961,601.3 1986.5,591.8 2012,580.8 2037.5,570.6 2063,553.8 2088.5,535.6 2114,510.3 2139.5,489.8 2165,471.4 2190.5,454.1 2216,439.6 2241.5,425.7 2267,415.8 2292.5,409.9 2318,414.8 2343.5,423.9 2369,441.2 2394.5,449.1 2420,457 2445.5,461.1 2471,466 2496.5,472.3 2522,478.7 2547.5,478.3 2573,477.4 2598.5,468.6 2624,459.5 2649.5,458.6 2675,453.1 2700.5,450.1 2726,448.9 2751.5,454.4 2777,459.1 2802.5,463.4 2828,457.3 2853.5,446.6 2879,437.9 2904.5,428.6 2930,418.5 2955.5,406.8 2981,395.7 3006.5,375.4 3032,353.3 3057.5,335.9 3083,320.4 3108.5,315.3 3134,304.9 3159.5,289.9 3185,276.6 3210.5,264.1 3236,253.9 3261.5,243.1 3287,230.7 3312.5,211.2 3338,197.3" fill="none" stroke="#FF2D37" stroke-width="3" stroke-linejoin="round" stroke-linecap="butt" shape-rendering="crispEdges"/>
<polyline points="48.5,368.6 74,385.9 99.5,401.2 125,424.6 150.5,440.7 176,449.4 201.5,460 227,471.4 252.5,482 278,488.2 303.5,496.8 329,511.8 354.5,527.1 380,541.1 405.5,554.8 431,569.7 456.5,578.1 482,573 507.5,562.4 533,552.2 558.5,542.1 584,532.7 609.5,519.8 635,502.4 660.5,486.9 686,477.2 711.5,466.4 737,451.9 762.5,439.1 788,431.3 813.5,421 839,407.1 864.5,400.1 890,395.5 915.5,390 941,381.3 966.5,372.1 992,367.9 1017.5,365.7 1043,361 1068.5,360.4 1094,359.8 1119.5,354.3 1145,350.2 1170.5,342.5 1196,336.8 1221.5,333.1 1247,338.3 1272.5,341.1 1298,340.6 1323.5,343.9 1349,346.8 1374.5,344.7 1400,344.9 1425.5,344.6 1451,346.2 1476.5,353.9 1502,382.7 1527.5,405.2 1553,425.9 1578.5,441.5 1604,454.7 1629.5,474.7 1655,493.9 1680.5,513 1706,532.3 1731.5,548.7 1757,559.2 1782.5,571.5 1808,583.3 1833.5,594.3 1859,606.1 1884.5,617 1910,626 1935.5,635.6 1961,641.7 1986.5,644.1 2012,622.7 2037.5,606.8 2063,590.2 2088.5,577.2 2114,561.5 2139.5,549.5 2165,539.1 2190.5,530.6 2216,520.4 2241.5,508.8 2267,498.3 2292.5,490.2 2318,484.2 2343.5,479.8 2369,475.7 2394.5,469.5 2420,464.2 2445.5,457.6 2471,452.8 2496.5,449 2522,447.2 2547.5,444.1 2573,446.1 2598.5,446.2 2624,450.4 2649.5,453.9 2675,455.1 2700.5,455.6 2726,457.5 2751.5,463.4 2777,468.9 2802.5,470.9 2828,467.4 2853.5,457.6 2879,448.7 2904.5,443.6 2930,435.8 2955.5,428.5 2981,422.3 3006.5,414.9 3032,406.2 3057.5,399.7 3083,388.9 3108.5,381 3134,371.4 3159.5,359.2 3185,347.5 3210.5,335.4 3236,324.8 3261.5,309.3 3287,292 3312.5,273.6 3338,258.9" fill="none" stroke="#0C9BFF" stroke-width="3" stroke-linejoin="round" stroke-linecap="butt" shape-rendering="crispEdges"/>
<polyline points="48.5,346.8 74,359.9 99.5,373.1 125,386.3 150.5,394.8 176,401.6 201.5,408.2 227,415.3 252.5,421.7 278,422.8 303.5,424.2 329,426 354.5,431 380,432.3 405.5,437.9 431,443.6 456.5,447.4 482,449.2 507.5,450.4 533,453.2 558.5,455.9 584,458.5 609.5,461.1 635,463.6 660.5,464.8 686,464.4 711.5,463.4 737,462.4 762.5,461.4 788,460.2 813.5,459.3 839,461.1 864.5,464.6 890,468.5 915.5,472.7 941,476 966.5,475.5 992,470.1 1017.5,463.6 1043,456.6 1068.5,451.3 1094,446.2 1119.5,437 1145,426.3 1170.5,414.7 1196,407 1221.5,399.8 1247,395.1 1272.5,390.1 1298,386 1323.5,382.4 1349,377 1374.5,372.4 1400,370.2 1425.5,367.3 1451,363.7 1476.5,363 1502,375.3 1527.5,385.5 1553,393.4 1578.5,400.9 1604,407.2 1629.5,414.5 1655,422.1 1680.5,427.8 1706,434.6 1731.5,440.9 1757,448.8 1782.5,456.3 1808,462 1833.5,469.1 1859,476.4 1884.5,480.8 1910,485.5 1935.5,490.1 1961,493.9 1986.5,499 2012,502.7 2037.5,506 2063,508.1 2088.5,509.4 2114,508.1 2139.5,512.1 2165,516.5 2190.5,521.8 2216,526.4 2241.5,528.7 2267,528.8 2292.5,530.9 2318,533.8 2343.5,537 2369,540.9 2394.5,543.2 2420,545.1 2445.5,546.6 2471,547.2 2496.5,546.6 2522,535 2547.5,525.4 2573,518.2 2598.5,511.7 2624,505.9 2649.5,501.7 2675,497.1 2700.5,493.1 2726,488.9 2751.5,486.1 2777,483.6 2802.5,480.5 2828,475.8 2853.5,468.7 2879,462.2 2904.5,456.5 2930,450 2955.5,443 2981,437.5 3006.5,432 3032,426.7 3057.5,421.9 3083,417.5 3108.5,413.6 3134,410.9 3159.5,406.5 3185,401.3 3210.5,395.5 3236,391.1 3261.5,386.3 3287,380.5 3312.5,372.2 3338,363.1" fill="none" stroke="#1C8A96" stroke-width="3" stroke-linejoin="round" stroke-linecap="butt" shape-rendering="crispEdges"/>
<polyline points="48.5,339 74,340.7 99.5,342.4 125,344.2 150.5,348.5 176,352.9 201.5,357.4 227,361.9 252.5,364.9 278,368.1 303.5,371.9 329,374.8 354.5,376.9 380,379.1 405.5,381.6 431,384.6 456.5,388.8 482,393.4 507.5,401.1 533,406.8 558.5,412.4 584,417.5 609.5,422.5 635,424.3 660.5,426.1 686,427.4 711.5,428.5 737,428.2 762.5,428 788,426.2 813.5,424.2 839,421.9 864.5,421.5 890,421.6 915.5,422.1 941,422.6 966.5,422.8 992,423 1017.5,423 1043,423.4 1068.5,424.7 1094,426 1119.5,425.5 1145,424.9 1170.5,423.6 1196,422.2 1221.5,421.6 1247,421.1 1272.5,421.4 1298,422 1323.5,422.7 1349,424 1374.5,425.2 1400,427.1 1425.5,429.8 1451,432.7 1476.5,437 1502,441.3 1527.5,444.9 1553,446.4 1578.5,448 1604,449.1 1629.5,449.6 1655,448.8 1680.5,447.5 1706,448.8 1731.5,449.4 1757,449.8 1782.5,450.6 1808,451.7 1833.5,453 1859,453.3 1884.5,453.9 1910,455.5 1935.5,456.7 1961,456.4 1986.5,456.7 2012,457.8 2037.5,459.2 2063,459 2088.5,459.7 2114,458.7 2139.5,459.5 2165,461.1 2190.5,462 2216,463.2 2241.5,463.5 2267,465.3 2292.5,467.6 2318,469.4 2343.5,472.6 2369,476.2 2394.5,477.1 2420,478.4 2445.5,479.3 2471,480.2 2496.5,482.3 2522,484.2 2547.5,485.4 2573,487.4 2598.5,488.3 2624,488.8 2649.5,492.7 2675,496 2700.5,499.8 2726,503.4 2751.5,506.9 2777,508.8 2802.5,510.9 2828,511.6 2853.5,510.5 2879,510.2 2904.5,510 2930,508.7 2955.5,507.2 2981,505.6 3006.5,502.7 3032,492 3057.5,483.5 3083,475.1 3108.5,468.1 3134,461.1 3159.5,454.2 3185,447.2 3210.5,440.6 3236,434.2 3261.5,427.1 3287,419.7 3312.5,411.5 3338,403.5" fill="none" stroke="#000" stroke-width="3" stroke-linejoin="round" stroke-linecap="butt" shape-rendering="crispEdges"/>
<polyline points="48.5,771.4 74,766.4 99.5,761.4 125,758.7 150.5,755.9 176,752.8 201.5,749.5 227,746.3 252.5,740.9 278,735.3 303.5,729.7 329,724.1 354.5,719.3 380,711.4 405.5,706.3 431,702 456.5,695.9 482,689.5 507.5,682 533,674.3 558.5,665.9 584,657.5 609.5,649.3 635,641.2 660.5,632.8 686,624.4 711.5,616.8 737,609 762.5,600.6 788,592.2 813.5,584.1 839,576 864.5,568.4 890,560.7 915.5,553 941,545 966.5,536.1 992,527.2 1017.5,518.3 1043,509 1068.5,499 1094,489 1119.5,478 1145,467 1170.5,454.2 1196,441.5 1221.5,430.8 1247,420.4 1272.5,411.1 1298,402.2 1323.5,394.2 1349,386.3 1374.5,379.3 1400,374 1425.5,371.4 1451,372.2 1476.5,377 1502,381.8 1527.5,385.6 1553,388.9 1578.5,391.7 1604,394.2 1629.5,395.2 1655,396.3 1680.5,398.4 1706,400.7 1731.5,403.1 1757,405.3 1782.5,407.5 1808,409.6 1833.5,411.7 1859,413.7 1884.5,415.6 1910,417.3 1935.5,419 1961,421.1 1986.5,423.6 2012,426.3 2037.5,430.5 2063,434.4 2088.5,437.7 2114,439.3 2139.5,440.9 2165,442.2 2190.5,443.4 2216,444.6 2241.5,445.7 2267,446.7 2292.5,447.7 2318,448.5 2343.5,449.3 2369,450.1 2394.5,450.8 2420,451.3 2445.5,451.7 2471,452.1 2496.5,452.4 2522,453.5 2547.5,454.6 2573,455.8 2598.5,456.9 2624,458.1 2649.5,459.5 2675,460.9 2700.5,462.2 2726,463.6 2751.5,465 2777,466.5 2802.5,467.9 2828,467.7 2853.5,467.5 2879,467.5 2904.5,468.2 2930,468.9 2955.5,469.6 2981,470.3 3006.5,468.7 3032,467 3057.5,464.5 3083,461.8 3108.5,458.6 3134,455.1 3159.5,451.6 3185,447.6 3210.5,443.4 3236,439.9 3261.5,436.9 3287,434.1 3312.5,431.5 3338,428.9" fill="none" stroke="#000" stroke-width="3" stroke-linejoin="round" stroke-linecap="butt" shape-rendering="crispEdges"/>
<line x1="3294.6" y1="110.2" x2="3311" y2="110.2" stroke="#555" stroke-width="1.6"/>
<path d="M3313.5 110.2 L3307 107.2 L3307 113.2 Z" fill="#000"/>
<line x1="1506" y1="1040" x2="1521" y2="1040" stroke="#555" stroke-width="1.6"/>
<path d="M1503 1040 L1509.5 1037 L1509.5 1043 Z" fill="#000"/>
<g shape-rendering="crispEdges">
<rect x="39.3" y="1215.5" width="18.4" height="102.7" fill="#fff" stroke="#C0242B" stroke-width="2"/>
<rect x="64.8" y="1203.5" width="18.4" height="114.7" fill="#fff" stroke="#C0242B" stroke-width="2"/>
<rect x="89.3" y="1220.2" width="20.4" height="98" fill="#1B911B"/>
<rect x="114.8" y="1211.2" width="20.4" height="107" fill="#1B911B"/>
<rect x="141.3" y="1223.5" width="18.4" height="94.7" fill="#fff" stroke="#C0242B" stroke-width="2"/>
<rect x="166.8" y="1185.5" width="18.4" height="132.7" fill="#fff" stroke="#C0242B" stroke-width="2"/>
<rect x="191.3" y="1210.2" width="20.4" height="108" fill="#1B911B"/>
<rect x="216.8" y="1201.9" width="20.4" height="116.3" fill="#1B911B"/>
<rect x="243.3" y="1217.2" width="18.4" height="101" fill="#fff" stroke="#C0242B" stroke-width="2"/>
<rect x="267.8" y="1205.2" width="20.4" height="113" fill="#1B911B"/>
<rect x="293.3" y="1209.2" width="20.4" height="109" fill="#1B911B"/>
<rect x="318.8" y="1204.5" width="20.4" height="113.7" fill="#1B911B"/>
<rect x="344.3" y="1185.8" width="20.4" height="132.4" fill="#1B911B"/>
<rect x="370.8" y="1206.9" width="18.4" height="111.3" fill="#fff" stroke="#C0242B" stroke-width="2"/>
<rect x="395.3" y="1207.9" width="20.4" height="110.3" fill="#1B911B"/>
<rect x="420.8" y="1183.8" width="20.4" height="134.4" fill="#1B911B"/>
<rect x="447.3" y="1176.5" width="18.4" height="141.7" fill="#fff" stroke="#C0242B" stroke-width="2"/>
<rect x="472.8" y="1131.7" width="18.4" height="186.5" fill="#fff" stroke="#C0242B" stroke-width="2"/>
<rect x="498.3" y="1170.5" width="18.4" height="147.7" fill="#fff" stroke="#C0242B" stroke-width="2"/>
<rect x="522.8" y="1188.5" width="20.4" height="129.7" fill="#1B911B"/>
<rect x="549.3" y="1182.5" width="18.4" height="135.7" fill="#fff" stroke="#C0242B" stroke-width="2"/>
<rect x="573.8" y="1174.1" width="20.4" height="144.1" fill="#1B911B"/>
<rect x="600.3" y="1184.5" width="18.4" height="133.7" fill="#fff" stroke="#C0242B" stroke-width="2"/>
<rect x="624.8" y="1153.1" width="20.4" height="165.1" fill="#1B911B"/>
<rect x="650.3" y="1165.1" width="20.4" height="153.1" fill="#1B911B"/>
<rect x="676.8" y="1179.5" width="18.4" height="138.7" fill="#fff" stroke="#C0242B" stroke-width="2"/>
<rect x="701.3" y="1192.5" width="20.4" height="125.7" fill="#1B911B"/>
<rect x="727.8" y="1125.4" width="18.4" height="192.8" fill="#fff" stroke="#C0242B" stroke-width="2"/>
<rect x="752.3" y="1144.1" width="20.4" height="174.1" fill="#1B911B"/>
<rect x="777.8" y="1172.5" width="20.4" height="145.7" fill="#1B911B"/>
<rect x="804.3" y="1170.8" width="18.4" height="147.4" fill="#fff" stroke="#C0242B" stroke-width="2"/>
<rect x="829.8" y="1154.4" width="18.4" height="163.8" fill="#fff" stroke="#C0242B" stroke-width="2"/>
<rect x="854.3" y="1156.1" width="20.4" height="162.1" fill="#1B911B"/>
<rect x="879.8" y="1181.2" width="20.4" height="137" fill="#1B911B"/>
<rect x="906.3" y="1205.5" width="18.4" height="112.7" fill="#fff" stroke="#C0242B" stroke-width="2"/>
<rect x="931.8" y="1206.5" width="18.4" height="111.7" fill="#fff" stroke="#C0242B" stroke-width="2"/>
<rect x="957.3" y="1166.5" width="18.4" height="151.7" fill="#fff" stroke="#C0242B" stroke-width="2"/>
<rect x="981.8" y="1189.2" width="20.4" height="129" fill="#1B911B"/>
<rect x="1007.3" y="1204.9" width="20.4" height="113.3" fill="#1B911B"/>
<rect x="1033.8" y="1208.5" width="18.4" height="109.7" fill="#fff" stroke="#C0242B" stroke-width="2"/>
<rect x="1058.3" y="1198.8" width="20.4" height="119.4" fill="#1B911B"/>
<rect x="1083.8" y="1203.9" width="20.4" height="114.3" fill="#1B911B"/>
<rect x="1110.3" y="1146.4" width="18.4" height="171.8" fill="#fff" stroke="#C0242B" stroke-width="2"/>
<rect x="1134.8" y="1194.5" width="20.4" height="123.7" fill="#1B911B"/>
<rect x="1160.3" y="1204.9" width="20.4" height="113.3" fill="#1B911B"/>
<rect x="1186.8" y="1209.5" width="18.4" height="108.7" fill="#fff" stroke="#C0242B" stroke-width="2"/>
<rect x="1211.3" y="1216.9" width="20.4" height="101.3" fill="#1B911B"/>
<rect x="1236.8" y="1200.2" width="20.4" height="118" fill="#1B911B"/>
<rect x="1263.3" y="1217.5" width="18.4" height="100.7" fill="#fff" stroke="#C0242B" stroke-width="2"/>
<rect x="1287.8" y="1224.9" width="20.4" height="93.3" fill="#1B911B"/>
<rect x="1313.3" y="1231.9" width="20.4" height="86.3" fill="#1B911B"/>
<rect x="1339.8" y="1229.6" width="18.4" height="88.6" fill="#fff" stroke="#C0242B" stroke-width="2"/>
<rect x="1364.3" y="1234.9" width="20.4" height="83.3" fill="#1B911B"/>
<rect x="1389.8" y="1213.9" width="20.4" height="104.3" fill="#1B911B"/>
<rect x="1415.3" y="1222.9" width="20.4" height="95.3" fill="#1B911B"/>
<rect x="1440.8" y="1240.9" width="20.4" height="77.3" fill="#1B911B"/>
<rect x="1467.3" y="1217.5" width="18.4" height="100.7" fill="#fff" stroke="#C0242B" stroke-width="2"/>
<rect x="1491.8" y="1122.7" width="20.4" height="195.5" fill="#1B911B"/>
<rect x="1518.3" y="1140.4" width="18.4" height="177.8" fill="#fff" stroke="#C0242B" stroke-width="2"/>
<rect x="1543.8" y="1145.8" width="18.4" height="172.4" fill="#fff" stroke="#C0242B" stroke-width="2"/>
<rect x="1568.3" y="1163.1" width="20.4" height="155.1" fill="#1B911B"/>
<rect x="1594.8" y="1196.2" width="18.4" height="122" fill="#fff" stroke="#C0242B" stroke-width="2"/>
<rect x="1619.3" y="1204.9" width="20.4" height="113.3" fill="#1B911B"/>
<rect x="1645.8" y="1230.6" width="18.4" height="87.6" fill="#fff" stroke="#C0242B" stroke-width="2"/>
<rect x="1671.3" y="1218.5" width="18.4" height="99.7" fill="#fff" stroke="#C0242B" stroke-width="2"/>
<rect x="1696.8" y="1238.6" width="18.4" height="79.6" fill="#fff" stroke="#C0242B" stroke-width="2"/>
<rect x="1722.3" y="1251.9" width="18.4" height="66.3" fill="#fff" stroke="#C0242B" stroke-width="2"/>
<rect x="1747.8" y="1238.9" width="18.4" height="79.3" fill="#fff" stroke="#C0242B" stroke-width="2"/>
<rect x="1773.3" y="1238.9" width="18.4" height="79.3" fill="#fff" stroke="#C0242B" stroke-width="2"/>
<rect x="1797.8" y="1222.5" width="20.4" height="95.7" fill="#1B911B"/>
<rect x="1823.3" y="1238.2" width="20.4" height="80" fill="#1B911B"/>
<rect x="1848.8" y="1231.9" width="20.4" height="86.3" fill="#1B911B"/>
<rect x="1874.3" y="1236.9" width="20.4" height="81.3" fill="#1B911B"/>
<rect x="1899.8" y="1241.2" width="20.4" height="77" fill="#1B911B"/>
<rect x="1925.3" y="1222.9" width="20.4" height="95.3" fill="#1B911B"/>
<rect x="1951.8" y="1215.5" width="18.4" height="102.7" fill="#fff" stroke="#C0242B" stroke-width="2"/>
<rect x="1976.3" y="1208.5" width="20.4" height="109.7" fill="#1B911B"/>
<rect x="2002.8" y="1223.5" width="18.4" height="94.7" fill="#fff" stroke="#C0242B" stroke-width="2"/>
<rect x="2027.3" y="1234.2" width="20.4" height="84" fill="#1B911B"/>
<rect x="2053.8" y="1205.5" width="18.4" height="112.7" fill="#fff" stroke="#C0242B" stroke-width="2"/>
<rect x="2078.3" y="1213.5" width="20.4" height="104.7" fill="#1B911B"/>
<rect x="2104.8" y="1197.2" width="18.4" height="121" fill="#fff" stroke="#C0242B" stroke-width="2"/>
<rect x="2129.3" y="1225.2" width="20.4" height="93" fill="#1B911B"/>
<rect x="2154.8" y="1236.9" width="20.4" height="81.3" fill="#1B911B"/>
<rect x="2180.3" y="1245.9" width="20.4" height="72.3" fill="#1B911B"/>
<rect x="2206.8" y="1241.6" width="18.4" height="76.6" fill="#fff" stroke="#C0242B" stroke-width="2"/>
<rect x="2232.3" y="1235.6" width="18.4" height="82.6" fill="#fff" stroke="#C0242B" stroke-width="2"/>
<rect x="2257.8" y="1242.2" width="18.4" height="76" fill="#fff" stroke="#C0242B" stroke-width="2"/>
<rect x="2282.3" y="1228.6" width="20.4" height="89.6" fill="#1B911B"/>
<rect x="2307.8" y="1236.9" width="20.4" height="81.3" fill="#1B911B"/>
<rect x="2333.3" y="1248.9" width="20.4" height="69.3" fill="#1B911B"/>
<rect x="2358.8" y="1254.9" width="20.4" height="63.3" fill="#1B911B"/>
<rect x="2385.3" y="1238.6" width="18.4" height="79.6" fill="#fff" stroke="#C0242B" stroke-width="2"/>
<rect x="2409.8" y="1241.9" width="20.4" height="76.3" fill="#1B911B"/>
<rect x="2436.3" y="1232.9" width="18.4" height="85.3" fill="#fff" stroke="#C0242B" stroke-width="2"/>
<rect x="2461.8" y="1236.6" width="18.4" height="81.6" fill="#fff" stroke="#C0242B" stroke-width="2"/>
<rect x="2487.3" y="1229.6" width="18.4" height="88.6" fill="#fff" stroke="#C0242B" stroke-width="2"/>
<rect x="2511.8" y="1240.2" width="20.4" height="78" fill="#1B911B"/>
<rect x="2538.3" y="1218.9" width="18.4" height="99.3" fill="#fff" stroke="#C0242B" stroke-width="2"/>
<rect x="2562.8" y="1216.2" width="20.4" height="102" fill="#1B911B"/>
<rect x="2589.3" y="1231" width="18.4" height="87.2" fill="#fff" stroke="#C0242B" stroke-width="2"/>
<rect x="2614.8" y="1218.9" width="18.4" height="99.3" fill="#fff" stroke="#C0242B" stroke-width="2"/>
<rect x="2639.3" y="1199.2" width="20.4" height="119" fill="#1B911B"/>
<rect x="2665.8" y="1225" width="18.4" height="93.2" fill="#fff" stroke="#C0242B" stroke-width="2"/>
<rect x="2690.3" y="1231.9" width="20.4" height="86.3" fill="#1B911B"/>
<rect x="2716.8" y="1232.9" width="18.4" height="85.3" fill="#fff" stroke="#C0242B" stroke-width="2"/>
<rect x="2741.3" y="1226.2" width="20.4" height="92" fill="#1B911B"/>
<rect x="2767.8" y="1236.9" width="18.4" height="81.3" fill="#fff" stroke="#C0242B" stroke-width="2"/>
<rect x="2793.3" y="1232.2" width="18.4" height="86" fill="#fff" stroke="#C0242B" stroke-width="2"/>
<rect x="2818.8" y="1205.2" width="18.4" height="113" fill="#fff" stroke="#C0242B" stroke-width="2"/>
<rect x="2844.3" y="1179.8" width="18.4" height="138.4" fill="#fff" stroke="#C0242B" stroke-width="2"/>
<rect x="2868.8" y="1192.2" width="20.4" height="126" fill="#1B911B"/>
<rect x="2894.3" y="1186.2" width="20.4" height="132" fill="#1B911B"/>
<rect x="2920.8" y="1209.5" width="18.4" height="108.7" fill="#fff" stroke="#C0242B" stroke-width="2"/>
<rect x="2946.3" y="1227.9" width="18.4" height="90.3" fill="#fff" stroke="#C0242B" stroke-width="2"/>
<rect x="2971.8" y="1222.9" width="18.4" height="95.3" fill="#fff" stroke="#C0242B" stroke-width="2"/>
<rect x="2997.3" y="1215.2" width="18.4" height="103" fill="#fff" stroke="#C0242B" stroke-width="2"/>
<rect x="3022.8" y="1206.5" width="18.4" height="111.7" fill="#fff" stroke="#C0242B" stroke-width="2"/>
<rect x="3047.3" y="1231.2" width="20.4" height="87" fill="#1B911B"/>
<rect x="3073.8" y="1206.5" width="18.4" height="111.7" fill="#fff" stroke="#C0242B" stroke-width="2"/>
<rect x="3098.3" y="1201.2" width="20.4" height="117" fill="#1B911B"/>
<rect x="3124.8" y="1185.5" width="18.4" height="132.7" fill="#fff" stroke="#C0242B" stroke-width="2"/>
<rect x="3150.3" y="1149.4" width="18.4" height="168.8" fill="#fff" stroke="#C0242B" stroke-width="2"/>
<rect x="3174.8" y="1195.2" width="20.4" height="123" fill="#1B911B"/>
<rect x="3200.3" y="1181.2" width="20.4" height="137" fill="#1B911B"/>
<rect x="3225.8" y="1202.5" width="20.4" height="115.7" fill="#1B911B"/>
<rect x="3252.3" y="1194.5" width="18.4" height="123.7" fill="#fff" stroke="#C0242B" stroke-width="2"/>
<rect x="3277.8" y="1182.8" width="18.4" height="135.4" fill="#fff" stroke="#C0242B" stroke-width="2"/>
<rect x="3303.3" y="1173.8" width="18.4" height="144.4" fill="#fff" stroke="#C0242B" stroke-width="2"/>
</g>
<polyline points="47.4,1182.5 100.8,1187.8 167.5,1192.8 267.7,1195.8 367.9,1196.2 468,1196.8 501.4,1193.5 601.6,1193.5 718.4,1192.8 894,1187.5 1080.3,1186.8 1120.4,1184.5 1213.9,1185.2 1314,1186.2 1380.8,1187.8 1447.6,1190.8 1497.6,1191.2 1547.7,1189.2 1614.5,1189.2 1681.3,1193.5 1720,1194.5 1770.1,1200.2 1836.8,1205.2 1903.6,1211.2 1987.1,1211.9 2120.6,1212.5 2187.4,1216.9 2287.6,1220.2 2387.7,1221.2 2487.9,1221.2 2538,1225.2 2566.7,1229.2 2606.8,1231.2 2673.5,1231.2 2740.3,1229.6 2817.1,1229.6 2873.9,1225.2 2907.3,1223.6 3040.8,1223.6 3141,1222.5 3207.7,1219.5 3274.5,1216.9 3312.9,1214.2" fill="none" stroke="#7f8a8a" stroke-width="2.9" stroke-linejoin="round" stroke-linecap="butt" shape-rendering="crispEdges"/>
<polyline points="47.4,1164.1 127.5,1166.8 167.5,1171.8 267.7,1174.1 367.9,1176.1 434.6,1180.1 501.4,1184.5 548.1,1186.2 601.6,1189.5 701.7,1191.2 801.9,1190.2 894,1188.2 1080.3,1189.2 1113.7,1190.2 1213.9,1190.8 1314,1191.2 1380.8,1193.5 1497.6,1194.2 1547.7,1191.8 1647.9,1191.2 1740,1193.5 1820.2,1193.5 1920.3,1196.2 2020.5,1199.5 2120.6,1201.2 2220.8,1205.9 2321,1211.2 2387.7,1215.2 2487.9,1218.5 2540,1219.5 2633.5,1219.5 2640,1221.2 2727,1221.2 2747,1222.9 2827,1222.9 2860.5,1221.2 2907.3,1219.5 3007.4,1220.2 3054.1,1222.9 3090.9,1224.6 3141,1224.2 3207.7,1222.9 3274.5,1221.2 3312.9,1218.5" fill="none" stroke="#FF8020" stroke-width="2.9" stroke-linejoin="round" stroke-linecap="butt" shape-rendering="crispEdges"/>
<polyline points="47.4,1191.2 117.5,1196.8 150.9,1200.8 234.3,1200.8 301.1,1203.5 401.2,1203.5 468,1202.5 518.1,1200.2 568.2,1196.2 634.9,1191.2 701.7,1185.2 768.5,1179.1 835.3,1173.5 894,1171.1 963.5,1170.1 1013.5,1174.5 1080.3,1177.8 1117,1175.8 1180.5,1181.8 1247.3,1187.8 1314,1194.5 1347.4,1198.5 1380.8,1205.2 1430.9,1207.9 1477.6,1211.2 1497.6,1209.2 1531,1205.2 1574.4,1199.2 1607.8,1199.2 1647.9,1203.5 1698,1206.9 1740,1208.5 1786.8,1211.2 1903.6,1212.5 1987.1,1212.5 2037.2,1220.2 2087.2,1225.9 2154,1227.9 2220.8,1229.2 2287.6,1227.9 2354.3,1230.2 2454.5,1231.2 2521.3,1232.6 2580,1232.2 2626.8,1235.2 2673.5,1232.6 2740.3,1231.2 2817.1,1230.2 2873.9,1223.6 2923.9,1218.5 3007.4,1216.9 3074.2,1214.5 3141,1211.2 3191,1208.5 3241.1,1205.2 3274.5,1201.9 3312.9,1197.5" fill="none" stroke="#0C9BFF" stroke-width="2.9" stroke-linejoin="round" stroke-linecap="butt" shape-rendering="crispEdges"/>
<polyline points="47.4,1197.5 117.5,1198.5 150.9,1205.2 184.2,1203.5 217.6,1207.9 251,1211.9 284.4,1207.9 317.8,1210.2 351.2,1205.2 401.2,1202.5 451.3,1200.2 484.7,1193.5 518.1,1188.5 551.5,1184.5 584.9,1181.8 618.2,1180.1 651.6,1171.8 685,1171.1 735.1,1172.5 768.5,1167.5 818.6,1165.1 865.3,1161.1 885,1163.5 913.4,1167.8 963.5,1170.1 996.8,1176.8 1030.2,1181.8 1063.6,1186.8 1097,1192.8 1120.4,1191.2 1163.8,1192.8 1197.2,1193.5 1220.5,1198.5 1263.9,1200.2 1297.3,1203.5 1347.4,1208.5 1374.1,1216.9 1400.8,1218.5 1430.9,1221.9 1454.2,1224.6 1480.9,1223.6 1504.3,1216.9 1531,1208.5 1564.4,1198.5 1587.8,1192.5 1631.2,1186.8 1698,1187.8 1725,1190.5 1753.4,1200.2 1786.8,1213.5 1820.2,1225.2 1853.5,1231.9 1886.9,1235.2 1920.3,1236.9 1953.7,1235.2 1987.1,1230.2 2037.2,1229.2 2070.6,1224.6 2114,1220.2 2164,1217.9 2204.1,1221.9 2237.5,1225.2 2287.6,1227.9 2337.6,1231.9 2371,1239.2 2404.4,1241.2 2437.8,1239.2 2521.3,1239.2 2554.7,1236.9 2590,1235.2 2640.2,1227.9 2707,1223.6 2823.8,1222.5 2857.2,1218.5 2907.3,1213.5 2957.3,1211.9 3024.1,1210.2 3107.6,1211.2 3141,1208.5 3157.6,1204.5 3191,1203.5 3224.4,1198.5 3274.5,1194.2 3312.9,1186.8" fill="none" stroke="#0EE00E" stroke-width="2.9" stroke-linejoin="round" stroke-linecap="butt" shape-rendering="crispEdges"/>
<polyline points="47.4,1196.2 167.5,1194.5 267.7,1194.5 334.5,1193.5 351.2,1191.8 434.6,1191.2 534.8,1187.8 601.6,1185.2 701.7,1182.8 768.5,1180.1 835.3,1177.8 894,1175.8 946.8,1173.5 1013.5,1174.5 1080.3,1172.5 1163.8,1170.1 1247.3,1169.1 1330.7,1169.1 1397.5,1169.1 1447.6,1172.5 1497.6,1176.1 1547.7,1177.8 1614.5,1179.5 1681.3,1181.8 1740,1182.6 1820.2,1184.5 1920.3,1186.8 2020.5,1191.2 2120.6,1195.2 2220.8,1199.2 2354.3,1201.9 2454.5,1203.5 2600,1203.2 2616.8,1204.5 2707,1205.2 2723.6,1206.2 2957.3,1206.2 2974,1207.9 3141,1208.5 3151,1206.9 3312.9,1206.2" fill="none" stroke="#000" stroke-width="2.9" stroke-linejoin="round" stroke-linecap="butt" shape-rendering="crispEdges"/>
<rect x="3221" y="1094.3" width="163.5" height="29.2" fill="#000"/>
<path d="M3364 1105 L3373 1105 L3368.5 1113 Z" fill="#ddd"/>
<rect x="3284.5" y="1321.5" width="100" height="27" fill="#000"/>
<rect x="3286" y="1323" width="96" height="24" fill="none" stroke="#fff" stroke-width="0"/>
<rect x="3284.5" y="1554.5" width="100" height="27" fill="#000"/>
<rect x="3286" y="1556" width="96" height="24" fill="none" stroke="#fff" stroke-width="0"/>
<polyline points="48.5,1536.5 74,1533.5 99.5,1533.5 125,1545.5 150.5,1550.6 176,1527.1 201.5,1518.6 227,1511.3 252.5,1502.8 278,1492.9 303.5,1487.4 329,1490.8 354.5,1490.8 380,1485.3 405.5,1484 431,1488.7 456.5,1467.3 482,1434 507.5,1406.7 533,1397.7 558.5,1375.5 584,1374.2 609.5,1361.8 635,1355 660.5,1364.8 686,1364.8 711.5,1370 737,1359.3 762.5,1361.4 788,1379.8 813.5,1377.6 839,1374.2 864.5,1399.9 890,1418.2 915.5,1433.2 941,1436.6 966.5,1421.2 992,1422.5 1017.5,1430.2 1043,1430.6 1068.5,1436.2 1094,1451.1 1119.5,1414.8 1145,1399.9 1170.5,1384.9 1196,1376.4 1221.5,1384.9 1247,1419.5 1272.5,1433.2 1298,1445.1 1323.5,1457.5 1349,1459.6 1374.5,1468.6 1400,1488.7 1425.5,1508.7 1451,1523.7 1476.5,1531.8 1502,1533.1 1527.5,1527.1 1553,1516.4 1578.5,1499.4 1604,1487.4 1629.5,1478 1655,1470.3 1680.5,1464.3 1706,1460.9 1731.5,1454.5 1757,1443.8 1782.5,1437.4 1808,1434 1833.5,1431.9 1859,1428 1884.5,1425 1910,1422.5 1935.5,1420.3 1961,1408.4 1986.5,1388.3 2012,1376.4 2037.5,1368.3 2063,1356.3 2088.5,1356.3 2114,1355 2139.5,1364.8 2165,1379.5 2190.5,1395 2216,1400.1 2241.5,1395.7 2267,1393.8 2292.5,1406.4 2318,1424.3 2343.5,1443.7 2369,1458.3 2394.5,1459.8 2420,1466.5 2445.5,1472.4 2471,1476.3 2496.5,1475.3 2522,1479.2 2547.5,1476.3 2573,1487.4 2598.5,1476.3 2624,1461.7 2649.5,1471.4 2675,1470.4 2700.5,1471.9 2726,1470.4 2751.5,1493.7 2777,1505.9 2802.5,1499.5 2828,1452 2853.5,1415.6 2879,1400.1 2904.5,1404 2930,1400.1 2955.5,1392.8 2981,1388.9 3006.5,1371 3032,1372.9 3057.5,1380.2 3083,1371.4 3108.5,1370 3134,1367.6 3159.5,1373.4 3185,1375.8 3210.5,1377.3 3236,1383.1 3261.5,1378.2 3287,1366.1 3312.5,1355.4 3338,1350.1" fill="none" stroke="#FF2D37" stroke-width="3" stroke-linejoin="round" stroke-linecap="butt" shape-rendering="crispEdges"/>
<polyline points="48.5,1518.1 74,1524.1 99.5,1526.7 125,1532.7 150.5,1538.6 176,1535.6 201.5,1529.2 227,1522.8 252.5,1517.3 278,1509.2 303.5,1502.3 329,1497.6 354.5,1495.9 380,1492.9 405.5,1490.8 431,1490 456.5,1482.3 482,1467.3 507.5,1446 533,1431 558.5,1411.8 584,1400.3 609.5,1386.2 635,1376.8 660.5,1373.4 686,1370.4 711.5,1370 737,1367 762.5,1364.8 788,1370 813.5,1371.2 839,1373.4 864.5,1382.8 890,1393.9 915.5,1407.5 941,1416.1 966.5,1418.2 992,1419.5 1017.5,1422.5 1043,1424.6 1068.5,1428 1094,1435.7 1119.5,1428.9 1145,1418.2 1170.5,1406.7 1196,1397.7 1221.5,1394.7 1247,1403.3 1272.5,1413.9 1298,1424.6 1323.5,1434.4 1349,1443 1374.5,1451.5 1400,1463.9 1425.5,1478.9 1451,1493.8 1476.5,1506.6 1502,1515.2 1527.5,1518.1 1553,1517.3 1578.5,1511.3 1604,1503.6 1629.5,1494.2 1655,1486.5 1680.5,1478.9 1706,1472.9 1731.5,1466.5 1757,1457.9 1782.5,1451.5 1808,1445.1 1833.5,1439.6 1859,1436.2 1884.5,1431.9 1910,1428.9 1935.5,1425.9 1961,1421.2 1986.5,1409.7 2012,1398.1 2037.5,1387.5 2063,1376.8 2088.5,1370 2114,1364.8 2139.5,1366.1 2165,1370 2190.5,1379.5 2216,1385 2241.5,1388.9 2267,1391.3 2292.5,1395.2 2318,1407.3 2343.5,1420.4 2369,1432.6 2394.5,1441.3 2420,1450 2445.5,1458.3 2471,1463.6 2496.5,1468 2522,1472.4 2547.5,1474.3 2573,1478.7 2598.5,1476.7 2624,1472.9 2649.5,1472.4 2675,1472.4 2700.5,1472.4 2726,1472.4 2751.5,1479.2 2777,1488.4 2802.5,1491.3 2828,1479.2 2853.5,1457.3 2879,1437.9 2904.5,1426.8 2930,1418 2955.5,1408.8 2981,1401 3006.5,1391.8 3032,1385 3057.5,1383.1 3083,1379.7 3108.5,1375.8 3134,1373.4 3159.5,1373.4 3185,1374.3 3210.5,1375.8 3236,1377.3 3261.5,1377.3 3287,1374.3 3312.5,1367.6 3338,1361.2" fill="none" stroke="#06D6F0" stroke-width="3" stroke-linejoin="round" stroke-linecap="butt" shape-rendering="crispEdges"/>
<g shape-rendering="crispEdges">
<rect x="47" y="1676.5" width="3" height="108.5" fill="#1B911B"/>
<rect x="72.5" y="1676.5" width="3" height="100" fill="#1B911B"/>
<rect x="98" y="1676.5" width="3" height="90.6" fill="#1B911B"/>
<rect x="123.5" y="1676.5" width="3" height="93.5" fill="#1B911B"/>
<rect x="149" y="1676.5" width="3" height="90.6" fill="#1B911B"/>
<rect x="174.5" y="1676.5" width="3" height="46.6" fill="#1B911B"/>
<rect x="200" y="1676.5" width="3" height="24.4" fill="#1B911B"/>
<rect x="225.5" y="1676.5" width="3" height="6.9" fill="#1B911B"/>
<rect x="251" y="1664.2" width="3" height="14.3" fill="#C0242B"/>
<rect x="276.5" y="1646.2" width="3" height="32.3" fill="#C0242B"/>
<rect x="302" y="1634.3" width="3" height="44.2" fill="#C0242B"/>
<rect x="327.5" y="1639.8" width="3" height="38.7" fill="#C0242B"/>
<rect x="353" y="1640.7" width="3" height="37.8" fill="#C0242B"/>
<rect x="378.5" y="1632.1" width="3" height="46.4" fill="#C0242B"/>
<rect x="404" y="1634.3" width="3" height="44.2" fill="#C0242B"/>
<rect x="429.5" y="1642.8" width="3" height="35.7" fill="#C0242B"/>
<rect x="455" y="1634.3" width="3" height="44.2" fill="#C0242B"/>
<rect x="480.5" y="1612.9" width="3" height="65.6" fill="#C0242B"/>
<rect x="506" y="1600.5" width="3" height="78" fill="#C0242B"/>
<rect x="531.5" y="1603.5" width="3" height="75" fill="#C0242B"/>
<rect x="557" y="1598" width="3" height="80.5" fill="#C0242B"/>
<rect x="582.5" y="1603.5" width="3" height="75" fill="#C0242B"/>
<rect x="608" y="1600.5" width="3" height="78" fill="#C0242B"/>
<rect x="633.5" y="1600.5" width="3" height="78" fill="#C0242B"/>
<rect x="659" y="1619.3" width="3" height="59.2" fill="#C0242B"/>
<rect x="684.5" y="1621.4" width="3" height="57.1" fill="#C0242B"/>
<rect x="710" y="1634.7" width="3" height="43.8" fill="#C0242B"/>
<rect x="735.5" y="1628.3" width="3" height="50.2" fill="#C0242B"/>
<rect x="761" y="1631.3" width="3" height="47.2" fill="#C0242B"/>
<rect x="786.5" y="1652.6" width="3" height="25.9" fill="#C0242B"/>
<rect x="812" y="1658.2" width="3" height="20.3" fill="#C0242B"/>
<rect x="837.5" y="1659" width="3" height="19.5" fill="#C0242B"/>
<rect x="863" y="1676.5" width="3" height="13.3" fill="#1B911B"/>
<rect x="888.5" y="1676.5" width="3" height="33.8" fill="#1B911B"/>
<rect x="914" y="1676.5" width="3" height="45.3" fill="#1B911B"/>
<rect x="939.5" y="1676.5" width="3" height="43.6" fill="#1B911B"/>
<rect x="965" y="1676.5" width="3" height="23.9" fill="#1B911B"/>
<rect x="990.5" y="1676.5" width="3" height="15.4" fill="#1B911B"/>
<rect x="1016" y="1676.5" width="3" height="15.4" fill="#1B911B"/>
<rect x="1041.5" y="1676.5" width="3" height="10.3" fill="#1B911B"/>
<rect x="1067" y="1676.5" width="3" height="13.3" fill="#1B911B"/>
<rect x="1092.5" y="1676.5" width="3" height="19.7" fill="#1B911B"/>
<rect x="1118" y="1667.6" width="3" height="10.9" fill="#C0242B"/>
<rect x="1143.5" y="1655.6" width="3" height="22.9" fill="#C0242B"/>
<rect x="1169" y="1647.1" width="3" height="31.4" fill="#C0242B"/>
<rect x="1194.5" y="1643.2" width="3" height="35.3" fill="#C0242B"/>
<rect x="1220" y="1656.9" width="3" height="21.6" fill="#C0242B"/>
<rect x="1245.5" y="1676.5" width="3" height="9.4" fill="#1B911B"/>
<rect x="1271" y="1676.5" width="3" height="21.8" fill="#1B911B"/>
<rect x="1296.5" y="1676.5" width="3" height="30.4" fill="#1B911B"/>
<rect x="1322" y="1676.5" width="3" height="37.2" fill="#1B911B"/>
<rect x="1347.5" y="1676.5" width="3" height="35.9" fill="#1B911B"/>
<rect x="1373" y="1676.5" width="3" height="38.9" fill="#1B911B"/>
<rect x="1398.5" y="1676.5" width="3" height="47.9" fill="#1B911B"/>
<rect x="1424" y="1676.5" width="3" height="50.8" fill="#1B911B"/>
<rect x="1449.5" y="1676.5" width="3" height="50.8" fill="#1B911B"/>
<rect x="1475" y="1676.5" width="3" height="54.3" fill="#1B911B"/>
<rect x="1500.5" y="1676.5" width="3" height="143.9" fill="#1B911B"/>
<rect x="1526" y="1676.5" width="3" height="166.1" fill="#1B911B"/>
<rect x="1551.5" y="1676.5" width="3" height="155.5" fill="#1B911B"/>
<rect x="1577" y="1676.5" width="3" height="121.3" fill="#1B911B"/>
<rect x="1602.5" y="1676.5" width="3" height="85" fill="#1B911B"/>
<rect x="1628" y="1676.5" width="3" height="52.1" fill="#1B911B"/>
<rect x="1653.5" y="1676.5" width="3" height="27.4" fill="#1B911B"/>
<rect x="1679" y="1676.5" width="3" height="3" fill="#1B911B"/>
<rect x="1704.5" y="1662.4" width="3" height="16.1" fill="#C0242B"/>
<rect x="1730" y="1650.5" width="3" height="28" fill="#C0242B"/>
<rect x="1755.5" y="1638.5" width="3" height="40" fill="#C0242B"/>
<rect x="1781" y="1631.3" width="3" height="47.2" fill="#C0242B"/>
<rect x="1806.5" y="1626.1" width="3" height="52.4" fill="#C0242B"/>
<rect x="1832" y="1626.1" width="3" height="52.4" fill="#C0242B"/>
<rect x="1857.5" y="1626.1" width="3" height="52.4" fill="#C0242B"/>
<rect x="1883" y="1629.1" width="3" height="49.4" fill="#C0242B"/>
<rect x="1908.5" y="1635.5" width="3" height="43" fill="#C0242B"/>
<rect x="1934" y="1641.1" width="3" height="37.4" fill="#C0242B"/>
<rect x="1959.5" y="1632.6" width="3" height="45.9" fill="#C0242B"/>
<rect x="1985" y="1622.7" width="3" height="55.8" fill="#C0242B"/>
<rect x="2010.5" y="1610.8" width="3" height="67.7" fill="#C0242B"/>
<rect x="2036" y="1610.8" width="3" height="67.7" fill="#C0242B"/>
<rect x="2061.5" y="1598.4" width="3" height="80.1" fill="#C0242B"/>
<rect x="2087" y="1592.8" width="3" height="85.7" fill="#C0242B"/>
<rect x="2112.5" y="1583.4" width="3" height="95.1" fill="#C0242B"/>
<rect x="2138" y="1592" width="3" height="86.5" fill="#C0242B"/>
<rect x="2163.5" y="1611.2" width="3" height="67.3" fill="#C0242B"/>
<rect x="2189" y="1631.4" width="3" height="47.1" fill="#C0242B"/>
<rect x="2214.5" y="1640.2" width="3" height="38.3" fill="#C0242B"/>
<rect x="2240" y="1643.6" width="3" height="34.9" fill="#C0242B"/>
<rect x="2265.5" y="1648.9" width="3" height="29.6" fill="#C0242B"/>
<rect x="2291" y="1665.4" width="3" height="13.1" fill="#C0242B"/>
<rect x="2316.5" y="1676.5" width="3" height="8.8" fill="#1B911B"/>
<rect x="2342" y="1676.5" width="3" height="27.7" fill="#1B911B"/>
<rect x="2367.5" y="1676.5" width="3" height="39.9" fill="#1B911B"/>
<rect x="2393" y="1676.5" width="3" height="38.9" fill="#1B911B"/>
<rect x="2418.5" y="1676.5" width="3" height="42.3" fill="#1B911B"/>
<rect x="2444" y="1676.5" width="3" height="37" fill="#1B911B"/>
<rect x="2469.5" y="1676.5" width="3" height="27.7" fill="#1B911B"/>
<rect x="2495" y="1676.5" width="3" height="18" fill="#1B911B"/>
<rect x="2520.5" y="1676.5" width="3" height="13.2" fill="#1B911B"/>
<rect x="2546" y="1676.5" width="3" height="5.9" fill="#1B911B"/>
<rect x="2571.5" y="1676.5" width="3" height="7.4" fill="#1B911B"/>
<rect x="2597" y="1675.6" width="3" height="2.9" fill="#C0242B"/>
<rect x="2622.5" y="1671.7" width="3" height="6.8" fill="#C0242B"/>
<rect x="2648" y="1676.5" width="3" height="4" fill="#1B911B"/>
<rect x="2673.5" y="1676.5" width="3" height="5.9" fill="#1B911B"/>
<rect x="2699" y="1676.5" width="3" height="7.4" fill="#1B911B"/>
<rect x="2724.5" y="1676.5" width="3" height="7.4" fill="#1B911B"/>
<rect x="2750" y="1676.5" width="3" height="18" fill="#1B911B"/>
<rect x="2775.5" y="1676.5" width="3" height="22.4" fill="#1B911B"/>
<rect x="2801" y="1676.5" width="3" height="19" fill="#1B911B"/>
<rect x="2852" y="1647.5" width="3" height="31" fill="#C0242B"/>
<rect x="2877.5" y="1637.8" width="3" height="40.7" fill="#C0242B"/>
<rect x="2903" y="1642.6" width="3" height="35.9" fill="#C0242B"/>
<rect x="2928.5" y="1643.6" width="3" height="34.9" fill="#C0242B"/>
<rect x="2954" y="1645.1" width="3" height="33.4" fill="#C0242B"/>
<rect x="2979.5" y="1646.5" width="3" height="32" fill="#C0242B"/>
<rect x="3005" y="1645.1" width="3" height="33.4" fill="#C0242B"/>
<rect x="3030.5" y="1640.2" width="3" height="38.3" fill="#C0242B"/>
<rect x="3056" y="1647.5" width="3" height="31" fill="#C0242B"/>
<rect x="3081.5" y="1643.6" width="3" height="34.9" fill="#C0242B"/>
<rect x="3107" y="1647.5" width="3" height="31" fill="#C0242B"/>
<rect x="3132.5" y="1646.5" width="3" height="32" fill="#C0242B"/>
<rect x="3158" y="1647.5" width="3" height="31" fill="#C0242B"/>
<rect x="3183.5" y="1650.4" width="3" height="28.1" fill="#C0242B"/>
<rect x="3209" y="1656.2" width="3" height="22.3" fill="#C0242B"/>
<rect x="3234.5" y="1665.4" width="3" height="13.1" fill="#C0242B"/>
<rect x="3260" y="1665.4" width="3" height="13.1" fill="#C0242B"/>
<rect x="3285.5" y="1659.6" width="3" height="18.9" fill="#C0242B"/>
<rect x="3311" y="1650.4" width="3" height="28.1" fill="#C0242B"/>
<rect x="3336.5" y="1647.5" width="3" height="31" fill="#C0242B"/>
</g>
<polyline points="48.5,1763.6 74,1770 99.5,1778.6 125,1789.3 150.5,1800 176,1784.1 201.5,1776.5 227,1767.9 252.5,1757.2 278,1743.6 303.5,1732.9 329,1730.8 354.5,1727.3 380,1718.8 405.5,1713.3 431,1713.3 456.5,1703.9 482,1684.6 507.5,1669.7 533,1661.2 558.5,1648.4 584,1642.8 609.5,1630.4 635,1622.7 660.5,1624 686,1621.4 711.5,1620.6 737,1612.1 762.5,1608.6 788,1616.3 813.5,1614.2 839,1614.2 864.5,1629.1 890,1642.8 915.5,1654.8 941,1662 966.5,1652.6 992,1649.6 1017.5,1652.6 1043,1652.6 1068.5,1655.6 1094,1662 1119.5,1644.1 1145,1636.8 1170.5,1627.9 1196,1622.7 1221.5,1626.1 1247,1643.2 1272.5,1652.6 1298,1659.9 1323.5,1667.6 1349,1670.6 1374.5,1676.1 1400,1688.1 1425.5,1695.3 1451,1700.4 1476.5,1709.4 1502,1773 1527.5,1804.2 1553,1820 1578.5,1817.9 1604,1809.3 1629.5,1799.9 1655,1790.5 1680.5,1779.9 1706,1770 1731.5,1760.2 1757,1748.7 1782.5,1738.9 1808,1730.8 1833.5,1723.9 1859,1718.8 1884.5,1713.7 1910,1712.4 1935.5,1710.3 1961,1699.6 1986.5,1688.1 2012,1674 2037.5,1665.4 2063,1651.3 2088.5,1637.7 2114,1618.5 2139.5,1614.2 2165,1615.6 2190.5,1620.2 2216,1620.8 2241.5,1618.4 2267,1615.9 2292.5,1623.2 2318,1634.4 2343.5,1647.5 2369,1658.6 2394.5,1662.5 2420,1668.3 2445.5,1671.7 2471,1670.3 2496.5,1666.9 2522,1666.9 2547.5,1664.5 2573,1665.4 2598.5,1662 2624,1658.6 2649.5,1662.5 2675,1664.5 2700.5,1666.9 2726,1667.9 2751.5,1674.2 2777,1679 2802.5,1680 2828,1671.7 2853.5,1651.4 2879,1642.6 2904.5,1640.2 2930,1636.8 2955.5,1634.4 2981,1632 3006.5,1625.6 3032,1618.8 3057.5,1619.8 3083,1614.5 3108.5,1611.1 3134,1607.2 3159.5,1603.8 3185,1602.3 3210.5,1602.3 3236,1607.7 3261.5,1604.8 3287,1599 3312.5,1590.7 3338,1588.5" fill="none" stroke="#FF2D37" stroke-width="3" stroke-linejoin="round" stroke-linecap="butt" shape-rendering="crispEdges"/>
<polyline points="48.5,1709.4 74,1720.9 99.5,1733.8 125,1745.7 150.5,1756 176,1761.5 201.5,1764.5 227,1764.5 252.5,1762.8 278,1760.2 303.5,1754.3 329,1749.6 354.5,1745.7 380,1739.3 405.5,1734.6 431,1730.8 456.5,1726.1 482,1718 507.5,1709 533,1699.6 558.5,1688.9 584,1680.4 609.5,1670.6 635,1659 660.5,1653.5 686,1646.2 711.5,1641.1 737,1634.7 762.5,1629.1 788,1627.9 813.5,1625.7 839,1622.7 864.5,1624 890,1630 915.5,1635.5 941,1639.8 966.5,1641.9 992,1644.1 1017.5,1647.1 1043,1648.4 1068.5,1650.5 1094,1650.5 1119.5,1649.2 1145,1647.5 1170.5,1644.1 1196,1639 1221.5,1636.8 1247,1637.7 1272.5,1640.7 1298,1645.4 1323.5,1650.5 1349,1654.8 1374.5,1659.9 1400,1665.4 1425.5,1671 1451,1677 1476.5,1682.9 1502,1701.7 1527.5,1723.1 1553,1742.3 1578.5,1757.2 1604,1767.1 1629.5,1773.5 1655,1777.7 1680.5,1778.6 1706,1777.3 1731.5,1774.3 1757,1769.2 1782.5,1763.6 1808,1758.1 1833.5,1752.1 1859,1746.6 1884.5,1741 1910,1736.7 1935.5,1732.9 1961,1728.2 1986.5,1722.2 2012,1714.5 2037.5,1706 2063,1697.5 2088.5,1688.1 2114,1675.3 2139.5,1663.3 2165,1652.6 2190.5,1645.6 2216,1638.7 2241.5,1634.4 2267,1631.5 2292.5,1629 2318,1630.5 2343.5,1635.3 2369,1640.2 2394.5,1645.1 2420,1649.9 2445.5,1653.8 2471,1656.7 2496.5,1659.6 2522,1661.5 2547.5,1662 2573,1663 2598.5,1662.5 2624,1661 2649.5,1662 2675,1663 2700.5,1664 2726,1664.9 2751.5,1666.9 2777,1669.3 2802.5,1671.7 2828,1671.7 2853.5,1666.9 2879,1662 2904.5,1657.2 2930,1652.3 2955.5,1649.9 2981,1646.5 3006.5,1642.6 3032,1637.8 3057.5,1634.4 3083,1629.5 3108.5,1625.6 3134,1622.2 3159.5,1619.3 3185,1615.9 3210.5,1613 3236,1611.1 3261.5,1609.6 3287,1607.2 3312.5,1603.8 3338,1602" fill="none" stroke="#06D6F0" stroke-width="3" stroke-linejoin="round" stroke-linecap="butt" shape-rendering="crispEdges"/>
<rect x="34" y="1846" width="1.6" height="5" fill="#444"/>
<rect x="429.5" y="1846" width="1.6" height="5" fill="#444"/>
<rect x="888.5" y="1846" width="1.6" height="5" fill="#444"/>
<rect x="1424" y="1846" width="1.6" height="5" fill="#444"/>
<rect x="1959.5" y="1846" width="1.6" height="5" fill="#444"/>
<rect x="2444" y="1846" width="1.6" height="5" fill="#444"/>
<rect x="2954" y="1846" width="1.6" height="5" fill="#444"/>
<rect x="34" y="1876.2" width="51" height="23.6" fill="#fff" stroke="#000" stroke-width="2"/>
<rect x="86.6" y="1876.2" width="133" height="23.6" fill="#fff"/>
<rect x="86.6" y="1875.4" width="133" height="2" fill="#000"/>
<rect x="86.6" y="1898.6" width="133" height="2" fill="#000"/>
<rect x="218" y="1875.4" width="2" height="25" fill="#000"/>
<rect x="92.6" y="1880.3" width="40.4" height="16" rx="4" fill="#6E0F13"/>
<rect x="220" y="1875.2" width="79.6" height="25" fill="#000"/>
<rect x="300.4" y="1875.4" width="55.2" height="1.6" fill="#777"/>
<rect x="300.4" y="1898.4" width="55.2" height="1.6" fill="#777"/>
<rect x="353.7" y="1875.4" width="2" height="24.6" fill="#777"/>
<rect x="355.6" y="1875.4" width="50" height="1.6" fill="#777"/>
<rect x="355.6" y="1898.4" width="50" height="1.6" fill="#777"/>
<rect x="403.7" y="1875.4" width="2" height="24.6" fill="#777"/>
<rect x="405.6" y="1875.4" width="67.8" height="1.6" fill="#777"/>
<rect x="405.6" y="1898.4" width="67.8" height="1.6" fill="#777"/>
<rect x="471.5" y="1875.4" width="2" height="24.6" fill="#777"/>
<rect x="473.4" y="1875.4" width="116.4" height="1.6" fill="#777"/>
<rect x="473.4" y="1898.4" width="116.4" height="1.6" fill="#777"/>
<rect x="587.9" y="1875.4" width="2" height="24.6" fill="#777"/>
<rect x="589.8" y="1875.4" width="116.2" height="1.6" fill="#777"/>
<rect x="589.8" y="1898.4" width="116.2" height="1.6" fill="#777"/>
<rect x="704.1" y="1875.4" width="2" height="24.6" fill="#777"/>
<rect x="706" y="1875.4" width="58.4" height="1.6" fill="#777"/>
<rect x="706" y="1898.4" width="58.4" height="1.6" fill="#777"/>
<rect x="762.5" y="1875.4" width="2" height="24.6" fill="#777"/>
<rect x="764.4" y="1875.4" width="69.2" height="1.6" fill="#777"/>
<rect x="764.4" y="1898.4" width="69.2" height="1.6" fill="#777"/>
<rect x="831.7" y="1875.4" width="2" height="24.6" fill="#777"/>
<rect x="833.6" y="1875.4" width="60" height="1.6" fill="#777"/>
<rect x="833.6" y="1898.4" width="60" height="1.6" fill="#777"/>
<rect x="891.7" y="1875.4" width="2" height="24.6" fill="#777"/>
<rect x="893.6" y="1875.4" width="63.3" height="1.6" fill="#777"/>
<rect x="893.6" y="1898.4" width="63.3" height="1.6" fill="#777"/>
<rect x="955" y="1875.4" width="2" height="24.6" fill="#777"/>
<rect x="957" y="1875.4" width="50.5" height="1.6" fill="#777"/>
<rect x="957" y="1898.4" width="50.5" height="1.6" fill="#777"/>
<rect x="1005.6" y="1875.4" width="2" height="24.6" fill="#777"/>
<rect x="1007.6" y="1875.4" width="46.4" height="1.6" fill="#777"/>
<rect x="1007.6" y="1898.4" width="46.4" height="1.6" fill="#777"/>
<rect x="1052.1" y="1875.4" width="2" height="24.6" fill="#777"/>
<rect x="1054" y="1875.4" width="69.9" height="1.6" fill="#777"/>
<rect x="1054" y="1898.4" width="69.9" height="1.6" fill="#777"/>
<rect x="1122" y="1875.4" width="2" height="24.6" fill="#777"/>
<rect x="1124" y="1875.4" width="61.7" height="1.6" fill="#777"/>
<rect x="1124" y="1898.4" width="61.7" height="1.6" fill="#777"/>
<rect x="1183.8" y="1875.4" width="2" height="24.6" fill="#777"/>
<rect x="1185.8" y="1875.4" width="62.1" height="1.6" fill="#777"/>
<rect x="1185.8" y="1898.4" width="62.1" height="1.6" fill="#777"/>
<rect x="1246" y="1875.4" width="2" height="24.6" fill="#777"/>
<rect x="1248" y="1875.4" width="85.5" height="1.6" fill="#777"/>
<rect x="1248" y="1898.4" width="85.5" height="1.6" fill="#777"/>
<rect x="1331.6" y="1875.4" width="2" height="24.6" fill="#777"/>
<rect x="1333.5" y="1875.4" width="51" height="1.6" fill="#777"/>
<rect x="1333.5" y="1898.4" width="51" height="1.6" fill="#777"/>
<rect x="1382.6" y="1875.4" width="2" height="24.6" fill="#777"/>
<rect x="1384.6" y="1875.4" width="70.1" height="1.6" fill="#777"/>
<rect x="1384.6" y="1898.4" width="70.1" height="1.6" fill="#777"/>
<rect x="1452.8" y="1875.4" width="2" height="24.6" fill="#777"/>
<rect x="1454.8" y="1875.4" width="61.1" height="1.6" fill="#777"/>
<rect x="1454.8" y="1898.4" width="61.1" height="1.6" fill="#777"/>
<rect x="1514" y="1875.4" width="2" height="24.6" fill="#777"/>
<rect x="1516" y="1875.4" width="56.8" height="1.6" fill="#777"/>
<rect x="1516" y="1898.4" width="56.8" height="1.6" fill="#777"/>
<rect x="1570.9" y="1875.4" width="2" height="24.6" fill="#777"/>
<rect x="1572.9" y="1875.4" width="86.9" height="1.6" fill="#777"/>
<rect x="1572.9" y="1898.4" width="86.9" height="1.6" fill="#777"/>
<rect x="1657.9" y="1875.4" width="2" height="24.6" fill="#777"/>
<rect x="34.5" y="1903" width="98.3" height="30" fill="#fff" stroke="#777" stroke-width="1.6"/>
<rect x="133.5" y="1903" width="97.3" height="30" fill="#fff" stroke="#777" stroke-width="1.6"/>
<rect x="231.5" y="1903" width="97.6" height="30" fill="#fff" stroke="#777" stroke-width="1.6"/>
<rect x="32.8" y="1900" width="2.2" height="31" fill="#000"/>
<path d="M3432 1911.5 L3440.3 1919.8 L3435.2 1919.8 L3435.2 1925.6 L3428.8 1925.6 L3428.8 1919.8 L3423.7 1919.8 Z" fill="#3a3a3a"/>
<rect x="3423.6" y="1908.3" width="17" height="2.3" fill="#3a3a3a"/>
<rect x="3464" y="96.1" width="376" height="1.9" fill="#000"/>
<rect x="3465" y="146.8" width="375" height="1.7" fill="#000"/>
<rect x="3464" y="436.6" width="376" height="1.8" fill="#000"/>
<rect x="3464" y="534" width="376" height="2.2" fill="#000"/>
<rect x="3652.6" y="534" width="2.2" height="270" fill="#000"/>
<rect x="3464" y="802.2" width="376" height="1.8" fill="#000"/>
<line x1="3570" y1="904" x2="3570" y2="1900" stroke="#888" stroke-width="1.3" stroke-dasharray="1.3 4"/>
<line x1="3624.7" y1="904" x2="3624.7" y2="1900" stroke="#888" stroke-width="1.3" stroke-dasharray="1.3 4"/>
<line x1="3679.6" y1="904" x2="3679.6" y2="1900" stroke="#888" stroke-width="1.3" stroke-dasharray="1.3 4"/>
<line x1="3735.2" y1="904" x2="3735.2" y2="1900" stroke="#888" stroke-width="1.3" stroke-dasharray="1.3 4"/>
<rect x="3595.8" y="903" width="2" height="998" fill="#666"/>
<rect x="3707.2" y="903" width="2" height="998" fill="#666"/>
<rect x="3652" y="903" width="3.4" height="998" fill="#666"/>
<rect x="3541.2" y="940.8" width="223.8" height="2" fill="#666"/>
<rect x="3541.2" y="979.8" width="223.8" height="2" fill="#666"/>
<rect x="3541.2" y="1018.9" width="223.8" height="2" fill="#666"/>
<rect x="3541.2" y="1057.9" width="223.8" height="2" fill="#666"/>
<rect x="3541.2" y="1097" width="223.8" height="2" fill="#666"/>
<rect x="3541.2" y="1136.1" width="223.8" height="2" fill="#666"/>
<rect x="3541.2" y="1175.1" width="223.8" height="2" fill="#666"/>
<rect x="3541.2" y="1214.2" width="223.8" height="2" fill="#666"/>
<rect x="3541.2" y="1252.4" width="223.8" height="3.8" fill="#666"/>
<rect x="3541.2" y="1292.3" width="223.8" height="2" fill="#666"/>
<rect x="3541.2" y="1331.4" width="223.8" height="2" fill="#666"/>
<rect x="3541.2" y="1370.4" width="223.8" height="2" fill="#666"/>
<rect x="3541.2" y="1409.5" width="223.8" height="2" fill="#666"/>
<rect x="3541.2" y="1448.5" width="223.8" height="2" fill="#666"/>
<rect x="3541.2" y="1487.6" width="223.8" height="2" fill="#666"/>
<rect x="3541.2" y="1526.7" width="223.8" height="2" fill="#666"/>
<rect x="3541.2" y="1565.7" width="223.8" height="2" fill="#666"/>
<rect x="3541.2" y="1647.7" width="223.8" height="2" fill="#666"/>
<rect x="3541.2" y="1690.1" width="223.8" height="2" fill="#666"/>
<rect x="3541.2" y="1731.9" width="223.8" height="2" fill="#666"/>
<rect x="3541.2" y="1773.9" width="223.8" height="2" fill="#666"/>
<rect x="3541.2" y="1816" width="223.8" height="2" fill="#666"/>
<rect x="3541.2" y="1857.8" width="223.8" height="2" fill="#666"/>
<rect x="3762" y="1605" width="2" height="296" fill="#666"/>
<rect x="3540.2" y="901.8" width="2.2" height="999.5" fill="#000"/>
<rect x="3762" y="901.8" width="2.2" height="705" fill="#000"/>
<rect x="3540.2" y="901.7" width="223.8" height="2.2" fill="#000"/>
<rect x="3540.2" y="1604.8" width="224.8" height="2.2" fill="#000"/>
<rect x="3463" y="1901" width="377" height="2.6" fill="#000"/>
<rect x="3465.4" y="1905.6" width="56.6" height="24.4" fill="#000" stroke="#666" stroke-width="1.6"/>
<rect x="3525" y="1905.6" width="56" height="24.4" fill="#fff" stroke="#777" stroke-width="1.6"/>
<rect x="3584" y="1905.6" width="57" height="24.4" fill="#fff" stroke="#777" stroke-width="1.6"/>
</svg>
<div class="t" style="top:19.4px;font-size:18px;line-height:20px;color:#111;left:16.4px;transform:translateX(-50%);font-family:'Liberation Serif','Noto Serif CJK SC',serif;">首</div>
<div class="t" style="top:43px;font-size:18px;line-height:20px;color:#111;left:16.4px;transform:translateX(-50%);font-family:'Liberation Serif','Noto Serif CJK SC',serif;">页</div>
<div class="t" style="top:102.6px;font-size:18px;line-height:20px;color:#111;left:16.4px;transform:translateX(-50%);font-family:'Liberation Serif','Noto Serif CJK SC',serif;">应</div>
<div class="t" style="top:126.9px;font-size:18px;line-height:20px;color:#111;left:16.4px;transform:translateX(-50%);font-family:'Liberation Serif','Noto Serif CJK SC',serif;">用</div>
<div class="t" style="top:167.1px;font-size:18px;line-height:20px;color:#444;left:16.4px;transform:translateX(-50%);font-family:'Liberation Serif','Noto Serif CJK SC',serif;">分</div>
<div class="t" style="top:187.6px;font-size:18px;line-height:20px;color:#444;left:16.4px;transform:translateX(-50%);font-family:'Liberation Serif','Noto Serif CJK SC',serif;">时</div>
<div class="t" style="top:208.3px;font-size:18px;line-height:20px;color:#444;left:16.4px;transform:translateX(-50%);font-family:'Liberation Serif','Noto Serif CJK SC',serif;">图</div>
<div class="t" style="top:249.4px;font-size:18px;line-height:20px;color:#fff;left:16.4px;transform:translateX(-50%);font-family:'Liberation Serif','Noto Serif CJK SC',serif;">K</div>
<div class="t" style="top:269.6px;font-size:18px;line-height:20px;color:#fff;left:16.4px;transform:translateX(-50%);font-family:'Liberation Serif','Noto Serif CJK SC',serif;">线</div>
<div class="t" style="top:291.6px;font-size:18px;line-height:20px;color:#fff;left:16.4px;transform:translateX(-50%);font-family:'Liberation Serif','Noto Serif CJK SC',serif;">图</div>
<div class="t" style="top:330.6px;font-size:18px;line-height:20px;color:#444;left:16.4px;transform:translateX(-50%);font-family:'Liberation Serif','Noto Serif CJK SC',serif;">大</div>
<div class="t" style="top:351.6px;font-size:18px;line-height:20px;color:#444;left:16.4px;transform:translateX(-50%);font-family:'Liberation Serif','Noto Serif CJK SC',serif;">盘</div>
<div class="t" style="top:372.6px;font-size:18px;line-height:20px;color:#444;left:16.4px;transform:translateX(-50%);font-family:'Liberation Serif','Noto Serif CJK SC',serif;">资</div>
<div class="t" style="top:393.6px;font-size:18px;line-height:20px;color:#444;left:16.4px;transform:translateX(-50%);font-family:'Liberation Serif','Noto Serif CJK SC',serif;">料</div>
<div class="t" style="top:436.9px;font-size:18px;line-height:20px;color:#444;left:16.4px;transform:translateX(-50%);font-family:'Liberation Serif','Noto Serif CJK SC',serif;">自</div>
<div class="t" style="top:458px;font-size:18px;line-height:20px;color:#444;left:16.4px;transform:translateX(-50%);font-family:'Liberation Serif','Noto Serif CJK SC',serif;">选</div>
<div class="t" style="top:479.1px;font-size:18px;line-height:20px;color:#444;left:16.4px;transform:translateX(-50%);font-family:'Liberation Serif','Noto Serif CJK SC',serif;">股</div>
<div class="t" style="top:517.6px;font-size:18px;line-height:20px;color:#444;left:16.4px;transform:translateX(-50%);font-family:'Liberation Serif','Noto Serif CJK SC',serif;">综</div>
<div class="t" style="top:538.1px;font-size:18px;line-height:20px;color:#444;left:16.4px;transform:translateX(-50%);font-family:'Liberation Serif','Noto Serif CJK SC',serif;">合</div>
<div class="t" style="top:559.2px;font-size:18px;line-height:20px;color:#444;left:16.4px;transform:translateX(-50%);font-family:'Liberation Serif','Noto Serif CJK SC',serif;">排</div>
<div class="t" style="top:580.3px;font-size:18px;line-height:20px;color:#444;left:16.4px;transform:translateX(-50%);font-family:'Liberation Serif','Noto Serif CJK SC',serif;">名</div>
<div class="t" style="top:635.4px;font-size:18px;line-height:20px;color:#444;left:16.4px;transform:translateX(-50%);font-family:'Liberation Serif','Noto Serif CJK SC',serif;">更</div>
<div class="t" style="top:659.1px;font-size:18px;line-height:20px;color:#444;left:16.4px;transform:translateX(-50%);font-family:'Liberation Serif','Noto Serif CJK SC',serif;">多</div>
<div class="t" style="top:4.6px;font-size:19.5px;line-height:21.5px;color:#000;left:87px;transform:translateX(-50%);">分时</div>
<div class="t" style="top:4.6px;font-size:19.5px;line-height:21.5px;color:#fff;left:127.8px;transform:translateX(-50%);">日</div>
<div class="t" style="top:4.6px;font-size:19.5px;line-height:21.5px;color:#000;left:159.3px;transform:translateX(-50%);">周</div>
<div class="t" style="top:4.6px;font-size:19.5px;line-height:21.5px;color:#000;left:189.6px;transform:translateX(-50%);">月</div>
<div class="t" style="top:4.6px;font-size:19.5px;line-height:21.5px;color:#000;left:220.6px;transform:translateX(-50%);">季</div>
<div class="t" style="top:4.6px;font-size:19.5px;line-height:21.5px;color:#000;left:252px;transform:translateX(-50%);">年</div>
<div class="t" style="top:4.6px;font-size:19.5px;line-height:21.5px;color:#000;left:288.4px;transform:translateX(-50%);">1分</div>
<div class="t" style="top:4.6px;font-size:19.5px;line-height:21.5px;color:#000;left:330.1px;transform:translateX(-50%);">5分</div>
<div class="t" style="top:4.6px;font-size:19.5px;line-height:21.5px;color:#000;left:377.6px;transform:translateX(-50%);">15分</div>
<div class="t" style="top:4.6px;font-size:19.5px;line-height:21.5px;color:#000;left:430.6px;transform:translateX(-50%);">30分</div>
<div class="t" style="top:4.6px;font-size:19.5px;line-height:21.5px;color:#000;left:483.7px;transform:translateX(-50%);">60分</div>
<div class="t" style="top:4.6px;font-size:19.5px;line-height:21.5px;color:#000;left:544.9px;transform:translateX(-50%);">多周期</div>
<div class="t" style="top:4.6px;font-size:19.5px;line-height:21.5px;color:#000;left:604.6px;transform:translateX(-50%);">设置</div>
<div class="t" style="top:5px;font-size:18px;line-height:20px;color:#3c3c3c;left:3145.4px;transform:translateX(-50%);">九转</div>
<div class="t" style="top:5px;font-size:18px;line-height:20px;color:#3c3c3c;left:3200.4px;transform:translateX(-50%);letter-spacing:-0.5px;">删自选</div>
<div class="t" style="top:5px;font-size:18px;line-height:20px;color:#3c3c3c;left:3254.9px;transform:translateX(-50%);">均线</div>
<div class="t" style="top:5px;font-size:18px;line-height:20px;color:#3c3c3c;left:3292.4px;transform:translateX(-50%);">窗</div>
<div class="t" style="top:5px;font-size:18px;line-height:20px;color:#3c3c3c;left:3330px;transform:translateX(-50%);">预测</div>
<div class="t" style="top:35.8px;font-size:18px;line-height:20px;color:#28A5CC;left:35.3px;letter-spacing:0.2px;">日线(复权)</div>
<div class="t" style="top:35.8px;font-size:18px;line-height:20px;color:#1E8C9A;left:133px;letter-spacing:0.8px;">沪深300</div>
<div class="t" style="top:35.3px;font-size:19px;line-height:21px;color:#FF2D37;left:211.9px;letter-spacing:0.3px;">MA10: 4032.38<span class="a">↑</span></div>
<div class="t" style="top:35.3px;font-size:19px;line-height:21px;color:#0C9BFF;left:364.2px;letter-spacing:0.3px;">MA20: 3994.41<span class="a">↑</span></div>
<div class="t" style="top:35.3px;font-size:19px;line-height:21px;color:#1C8A96;left:516.2px;letter-spacing:0.3px;">MA40: 3930.19<span class="a">↑</span></div>
<div class="t" style="top:35.3px;font-size:19px;line-height:21px;color:#000;left:668.2px;letter-spacing:0.3px;">MA60: 3905.33<span class="a">↑</span></div>
<div class="t" style="top:35.3px;font-size:19px;line-height:21px;color:#000;left:820.2px;letter-spacing:0.3px;">MA120: 3890.51<span class="a">↑</span></div>
<div class="t" style="top:50.7px;font-size:18.5px;line-height:20.5px;color:#C8232C;left:3386px;letter-spacing:0.9px;">4118</div>
<div class="t" style="top:165.3px;font-size:18.5px;line-height:20.5px;color:#C8232C;left:3386px;letter-spacing:0.6px;">4048</div>
<div class="t" style="top:280.1px;font-size:18.5px;line-height:20.5px;color:#C8232C;left:3386px;letter-spacing:0.6px;">3977</div>
<div class="t" style="top:394.8px;font-size:18.5px;line-height:20.5px;color:#C8232C;left:3386px;letter-spacing:0.6px;">3906</div>
<div class="t" style="top:509.5px;font-size:18.5px;line-height:20.5px;color:#C8232C;left:3386px;letter-spacing:0.6px;">3836</div>
<div class="t" style="top:624.2px;font-size:18.5px;line-height:20.5px;color:#C8232C;left:3386px;letter-spacing:0.6px;">3765</div>
<div class="t" style="top:738.9px;font-size:18.5px;line-height:20.5px;color:#C8232C;left:3386px;letter-spacing:0.6px;">3695</div>
<div class="t" style="top:853.6px;font-size:18.5px;line-height:20.5px;color:#C8232C;left:3386px;letter-spacing:0.6px;">3624</div>
<div class="t" style="top:968.3px;font-size:18.5px;line-height:20.5px;color:#C8232C;left:3386px;letter-spacing:0.6px;">3553</div>
<div class="t" style="top:1115.2px;font-size:18.5px;line-height:20.5px;color:#1E8C9A;left:3386px;letter-spacing:0.6px;">5130</div>
<div class="t" style="top:1179.2px;font-size:18.5px;line-height:20.5px;color:#1E8C9A;left:3386px;letter-spacing:0.6px;">3433</div>
<div class="t" style="top:1243.7px;font-size:18.5px;line-height:20.5px;color:#1E8C9A;left:3386px;letter-spacing:0.6px;">1736</div>
<div class="t" style="top:1341.2px;font-size:18.5px;line-height:20.5px;color:#C8232C;left:3399.3px;letter-spacing:0.5px;">+93.97</div>
<div class="t" style="top:1406.8px;font-size:18.5px;line-height:20.5px;color:#C8232C;left:3399.3px;letter-spacing:0.5px;">+66.21</div>
<div class="t" style="top:1474.8px;font-size:18.5px;line-height:20.5px;color:#C8232C;left:3399.3px;letter-spacing:0.5px;">+37.82</div>
<div class="t" style="top:1574.2px;font-size:18.5px;line-height:20.5px;color:#C8232C;left:3387.3px;letter-spacing:0.5px;">+39.31</div>
<div class="t" style="top:1602.2px;font-size:18.5px;line-height:20.5px;color:#C8232C;left:3387.3px;letter-spacing:0.5px;">+27.54</div>
<div class="t" style="top:1668.2px;font-size:18.5px;line-height:20.5px;color:#C8232C;left:3387.3px;letter-spacing:-0.1px;">+0</div>
<div class="t" style="top:1733px;font-size:18.5px;line-height:20.5px;color:#1A9A1A;left:3387.3px;letter-spacing:0.8px;">-26.37</div>
<div class="t" style="top:1798.5px;font-size:18.5px;line-height:20.5px;color:#1A9A1A;left:3387.3px;letter-spacing:0.8px;">-53.64</div>
<div class="t" style="top:101.3px;font-size:18px;line-height:20px;color:#000;left:3220px;letter-spacing:0.8px;">4086.12</div>
<div class="t" style="top:1031.3px;font-size:18px;line-height:20px;color:#000;left:1524px;letter-spacing:0.6px;">3514.12</div>
<div class="t" style="top:1099.5px;font-size:18px;line-height:20px;color:#555;left:3302px;transform:translateX(-50%);">金额</div>
<div class="t" style="top:1325px;font-size:18px;line-height:20px;color:#5a5a5a;left:3334px;transform:translateX(-50%);letter-spacing:1.2px;">指标说明</div>
<div class="t" style="top:1558px;font-size:18px;line-height:20px;color:#5a5a5a;left:3334px;transform:translateX(-50%);letter-spacing:1.2px;">指标说明</div>
<div class="t" style="top:1323.7px;font-size:19px;line-height:21px;color:#FF2D37;left:35px;letter-spacing:0.1px;">KDJ(20,3,3) K: +93.97<span class="a">↑</span></div>
<div class="t" style="top:1323.7px;font-size:19px;line-height:21px;color:#06D6F0;left:243.8px;letter-spacing:0.2px;">D: +88.73<span class="a">↑</span></div>
<div class="t" style="top:1556.5px;font-size:19px;line-height:21px;color:#c3c3c3;left:35.3px;letter-spacing:0.2px;">MACD(10,20,9)</div>
<div class="t" style="top:1556.5px;font-size:19px;line-height:21px;color:#C0242B;left:177.8px;letter-spacing:0.4px;">MACD: +11.80<span class="a">↑</span></div>
<div class="t" style="top:1556.5px;font-size:19px;line-height:21px;color:#FF2D37;left:325.8px;letter-spacing:0px;">DIFF: +37.11<span class="a">↑</span></div>
<div class="t" style="top:1556.5px;font-size:19px;line-height:21px;color:#06D6F0;left:456.3px;letter-spacing:-0px;">DEA: +31.21<span class="a">↑</span></div>
<div class="t" style="top:1849.8px;font-size:18px;line-height:20px;color:#000;left:36.5px;letter-spacing:-0.3px;">01</div>
<div class="t" style="top:1849.8px;font-size:18px;line-height:20px;color:#000;left:432px;letter-spacing:-0.3px;">02</div>
<div class="t" style="top:1849.8px;font-size:18px;line-height:20px;color:#000;left:891px;letter-spacing:-0.3px;">03</div>
<div class="t" style="top:1849.8px;font-size:18px;line-height:20px;color:#000;left:1426.5px;letter-spacing:-0.3px;">04</div>
<div class="t" style="top:1849.8px;font-size:18px;line-height:20px;color:#000;left:1962px;letter-spacing:-0.3px;">05</div>
<div class="t" style="top:1849.8px;font-size:18px;line-height:20px;color:#000;left:2446.5px;letter-spacing:-0.3px;">06</div>
<div class="t" style="top:1849.8px;font-size:18px;line-height:20px;color:#000;left:2956.5px;letter-spacing:-0.3px;">07</div>
<div class="t" style="top:1877.8px;font-size:19px;line-height:21px;color:#000;left:59.5px;transform:translateX(-50%);">设置</div>
<div class="t" style="top:1880.4px;font-size:14px;line-height:16px;color:#fff;left:112.8px;transform:translateX(-50%);letter-spacing:0.2px;">NEW</div>
<div class="t" style="top:1878px;font-size:19px;line-height:21px;color:#3a3a3a;left:136.5px;letter-spacing:-0.8px;">指标广场</div>
<div class="t" style="top:1878.1px;font-size:19px;line-height:21px;color:#fff;left:259.8px;transform:translateX(-50%);">MACD</div>
<div class="t" style="top:1878.1px;font-size:19px;line-height:21px;color:#000;left:327.5px;transform:translateX(-50%);">KDJ</div>
<div class="t" style="top:1878.1px;font-size:19px;line-height:21px;color:#000;left:380.1px;transform:translateX(-50%);">RSI</div>
<div class="t" style="top:1878.1px;font-size:19px;line-height:21px;color:#000;left:439px;transform:translateX(-50%);">BOLL</div>
<div class="t" style="top:1878.1px;font-size:19px;line-height:21px;color:#000;left:531.1px;transform:translateX(-50%);">沪深上涨数</div>
<div class="t" style="top:1878.1px;font-size:19px;line-height:21px;color:#000;left:647.4px;transform:translateX(-50%);">沪深涨停数</div>
<div class="t" style="top:1878.1px;font-size:19px;line-height:21px;color:#000;left:734.7px;transform:translateX(-50%);">主力</div>
<div class="t" style="top:1878.1px;font-size:19px;line-height:21px;color:#000;left:798.5px;transform:translateX(-50%);">W&amp;R</div>
<div class="t" style="top:1878.1px;font-size:19px;line-height:21px;color:#000;left:863.1px;transform:translateX(-50%);">DMI</div>
<div class="t" style="top:1878.1px;font-size:19px;line-height:21px;color:#000;left:924.8px;transform:translateX(-50%);">BIAS</div>
<div class="t" style="top:1878.1px;font-size:19px;line-height:21px;color:#000;left:981.8px;transform:translateX(-50%);">ASI</div>
<div class="t" style="top:1878.1px;font-size:19px;line-height:21px;color:#000;left:1030.3px;transform:translateX(-50%);">VR</div>
<div class="t" style="top:1878.1px;font-size:19px;line-height:21px;color:#000;left:1088.5px;transform:translateX(-50%);">ARBR</div>
<div class="t" style="top:1878.1px;font-size:19px;line-height:21px;color:#000;left:1154.3px;transform:translateX(-50%);">DPO</div>
<div class="t" style="top:1878.1px;font-size:19px;line-height:21px;color:#000;left:1216.3px;transform:translateX(-50%);">TRIX</div>
<div class="t" style="top:1878.1px;font-size:19px;line-height:21px;color:#000;left:1290.2px;transform:translateX(-50%);">新DMA</div>
<div class="t" style="top:1878.1px;font-size:19px;line-height:21px;color:#000;left:1358.5px;transform:translateX(-50%);">BBI</div>
<div class="t" style="top:1878.1px;font-size:19px;line-height:21px;color:#000;left:1419.2px;transform:translateX(-50%);">MTM</div>
<div class="t" style="top:1878.1px;font-size:19px;line-height:21px;color:#000;left:1484.8px;transform:translateX(-50%);">OBV</div>
<div class="t" style="top:1878.1px;font-size:19px;line-height:21px;color:#000;left:1543.9px;transform:translateX(-50%);">SAR</div>
<div class="t" style="top:1878.1px;font-size:19px;line-height:21px;color:#000;left:1615.8px;transform:translateX(-50%);">EXPMA</div>
<div class="t" style="top:1907.8px;font-size:19.5px;line-height:21.5px;color:#000;left:83.2px;transform:translateX(-50%);">股市直播</div>
<div class="t" style="top:1907.8px;font-size:19.5px;line-height:21.5px;color:#000;left:181.7px;transform:translateX(-50%);">投资机会</div>
<div class="t" style="top:1907.8px;font-size:19.5px;line-height:21.5px;color:#000;left:279.8px;transform:translateX(-50%);">高手观点</div>
<div class="t" style="top:7.3px;font-size:36px;line-height:38px;color:#1E8C9A;left:3512px;letter-spacing:0.5px;">沪深300 000300</div>
<div class="t" style="top:46.5px;font-size:37.5px;line-height:39.5px;color:#1A9A1A;left:3486.5px;letter-spacing:0.4px;">4085.03</div>
<div class="t" style="top:65px;font-size:21px;line-height:23px;color:#1A9A1A;left:3675px;letter-spacing:0.2px;">-0.58</div>
<div class="t" style="top:65px;font-size:21px;line-height:23px;color:#1A9A1A;left:3760px;letter-spacing:-0.1px;">-0.01%</div>
<div class="t" style="top:111.2px;font-size:20.5px;line-height:22.5px;color:#000;left:3466.5px;">委比</div>
<div class="t" style="top:110.9px;font-size:21px;line-height:23px;color:#000;right:190.5px;letter-spacing:2.2px;margin-right:-2.2px;">--</div>
<div class="t" style="top:110.9px;font-size:21px;line-height:23px;color:#000;right:2.5px;letter-spacing:2.2px;margin-right:-2.2px;">--</div>
<div class="t" style="top:160.2px;font-size:20.5px;line-height:22.5px;color:#000;left:3466.5px;">最新</div>
<div class="t" style="top:159.9px;font-size:21px;line-height:23px;color:#1A9A1A;right:190.5px;letter-spacing:0.3px;margin-right:-0.3px;">4085.03</div>
<div class="t" style="top:160.2px;font-size:20.5px;line-height:22.5px;color:#000;left:3655.5px;">昨收</div>
<div class="t" style="top:159.9px;font-size:21px;line-height:23px;color:#000;right:2.5px;letter-spacing:0.3px;margin-right:-0.3px;">4085.61</div>
<div class="t" style="top:208.2px;font-size:20.5px;line-height:22.5px;color:#000;left:3466.5px;">涨跌</div>
<div class="t" style="top:207.9px;font-size:21px;line-height:23px;color:#1A9A1A;right:190.5px;letter-spacing:0.3px;margin-right:-0.3px;">-0.58</div>
<div class="t" style="top:208.2px;font-size:20.5px;line-height:22.5px;color:#000;left:3655.5px;">开盘</div>
<div class="t" style="top:207.9px;font-size:21px;line-height:23px;color:#000;right:2.5px;letter-spacing:2.2px;margin-right:-2.2px;">--</div>
<div class="t" style="top:257.1px;font-size:20.5px;line-height:22.5px;color:#000;left:3466.5px;">涨幅</div>
<div class="t" style="top:256.9px;font-size:21px;line-height:23px;color:#1A9A1A;right:190.5px;letter-spacing:0.3px;margin-right:-0.3px;">-0.01%</div>
<div class="t" style="top:257.1px;font-size:20.5px;line-height:22.5px;color:#000;left:3655.5px;">最高</div>
<div class="t" style="top:256.9px;font-size:21px;line-height:23px;color:#000;right:2.5px;letter-spacing:2.2px;margin-right:-2.2px;">--</div>
<div class="t" style="top:305.1px;font-size:20.5px;line-height:22.5px;color:#000;left:3466.5px;">振幅</div>
<div class="t" style="top:304.9px;font-size:21px;line-height:23px;color:#1E8C9A;right:190.5px;letter-spacing:2.2px;margin-right:-2.2px;">--</div>
<div class="t" style="top:305.1px;font-size:20.5px;line-height:22.5px;color:#000;left:3655.5px;">最低</div>
<div class="t" style="top:304.9px;font-size:21px;line-height:23px;color:#000;right:2.5px;letter-spacing:2.2px;margin-right:-2.2px;">--</div>
<div class="t" style="top:354.1px;font-size:20.5px;line-height:22.5px;color:#000;left:3466.5px;">现手</div>
<div class="t" style="top:353.9px;font-size:21px;line-height:23px;color:#1E8C9A;right:190.5px;letter-spacing:2.2px;margin-right:-2.2px;">--</div>
<div class="t" style="top:354.1px;font-size:20.5px;line-height:22.5px;color:#000;left:3655.5px;">量比</div>
<div class="t" style="top:353.9px;font-size:21px;line-height:23px;color:#000;right:2.5px;letter-spacing:2.2px;margin-right:-2.2px;">--</div>
<div class="t" style="top:402.1px;font-size:20.5px;line-height:22.5px;color:#000;left:3466.5px;">总手</div>
<div class="t" style="top:401.9px;font-size:21px;line-height:23px;color:#000;right:190.5px;letter-spacing:2.2px;margin-right:-2.2px;">--</div>
<div class="t" style="top:402.1px;font-size:20.5px;line-height:22.5px;color:#000;left:3655.5px;">金额</div>
<div class="t" style="top:401.9px;font-size:21px;line-height:23px;color:#1E8C9A;right:2.5px;letter-spacing:2.2px;margin-right:-2.2px;">--</div>
<div class="t" style="top:444.4px;font-size:20.5px;line-height:22.5px;color:#000;left:3466.5px;">总市值</div>
<div class="t" style="top:444.2px;font-size:21px;line-height:23px;color:#1E8C9A;right:2.5px;letter-spacing:2.2px;margin-right:-2.2px;">--</div>
<div class="t" style="top:476.8px;font-size:20.5px;line-height:22.5px;color:#000;left:3466.5px;">流通市值</div>
<div class="t" style="top:476.5px;font-size:21px;line-height:23px;color:#1E8C9A;right:2.5px;letter-spacing:2.2px;margin-right:-2.2px;">--</div>
<div class="t" style="top:508.4px;font-size:20.5px;line-height:22.5px;color:#000;left:3466.5px;">两市成交额(沪市+深市)</div>
<div class="t" style="top:508.1px;font-size:21px;line-height:23px;color:#1E8C9A;right:2.5px;letter-spacing:2.2px;margin-right:-2.2px;">--</div>
<div class="t" style="top:548.1px;font-size:20.5px;line-height:22.5px;color:#000;left:3466.5px;">委卖量</div>
<div class="t" style="top:547.9px;font-size:21px;line-height:23px;color:#1A9A1A;right:190.5px;letter-spacing:2.2px;margin-right:-2.2px;">--</div>
<div class="t" style="top:548.1px;font-size:20.5px;line-height:22.5px;color:#000;left:3654.5px;">上涨家数</div>
<div class="t" style="top:547.9px;font-size:21px;line-height:23px;color:#C8232C;right:2.5px;letter-spacing:2.2px;margin-right:-2.2px;">--</div>
<div class="t" style="top:592.1px;font-size:20.5px;line-height:22.5px;color:#000;left:3466.5px;">委买量</div>
<div class="t" style="top:591.9px;font-size:21px;line-height:23px;color:#C8232C;right:190.5px;letter-spacing:2.2px;margin-right:-2.2px;">--</div>
<div class="t" style="top:592.1px;font-size:20.5px;line-height:22.5px;color:#000;left:3654.5px;">平盘家数</div>
<div class="t" style="top:591.9px;font-size:21px;line-height:23px;color:#1E8C9A;right:2.5px;letter-spacing:2.2px;margin-right:-2.2px;">--</div>
<div class="t" style="top:637.1px;font-size:20.5px;line-height:22.5px;color:#000;left:3466.5px;">卖金额</div>
<div class="t" style="top:636.9px;font-size:21px;line-height:23px;color:#1E8C9A;right:190.5px;letter-spacing:2.2px;margin-right:-2.2px;">--</div>
<div class="t" style="top:637.1px;font-size:20.5px;line-height:22.5px;color:#000;left:3654.5px;">下跌家数</div>
<div class="t" style="top:636.9px;font-size:21px;line-height:23px;color:#1A9A1A;right:2.5px;letter-spacing:2.2px;margin-right:-2.2px;">--</div>
<div class="t" style="top:681.6px;font-size:20.5px;line-height:22.5px;color:#000;left:3466.5px;">买金额</div>
<div class="t" style="top:681.4px;font-size:21px;line-height:23px;color:#1E8C9A;right:190.5px;letter-spacing:2.2px;margin-right:-2.2px;">--</div>
<div class="t" style="top:681.6px;font-size:20.5px;line-height:22.5px;color:#000;left:3654.5px;">市盈</div>
<div class="t" style="top:681.4px;font-size:21px;line-height:23px;color:#000;right:2.5px;letter-spacing:2.2px;margin-right:-2.2px;">--</div>
<div class="t" style="top:726.1px;font-size:20.5px;line-height:22.5px;color:#000;left:3466.5px;">换手</div>
<div class="t" style="top:725.9px;font-size:21px;line-height:23px;color:#1E8C9A;right:190.5px;letter-spacing:2.2px;margin-right:-2.2px;">--</div>
<div class="t" style="top:726.1px;font-size:20.5px;line-height:22.5px;color:#000;left:3654.5px;">市盈(动)</div>
<div class="t" style="top:725.9px;font-size:21px;line-height:23px;color:#000;right:2.5px;letter-spacing:2.2px;margin-right:-2.2px;">--</div>
<div class="t" style="top:769.8px;font-size:20.5px;line-height:22.5px;color:#000;left:3466.5px;">均价</div>
<div class="t" style="top:769.5px;font-size:21px;line-height:23px;color:#000;right:190.5px;letter-spacing:2.2px;margin-right:-2.2px;">--</div>
<div class="t" style="top:769.8px;font-size:20.5px;line-height:22.5px;color:#000;left:3654.5px;">市净率</div>
<div class="t" style="top:769.5px;font-size:21px;line-height:23px;color:#000;right:2.5px;letter-spacing:2.2px;margin-right:-2.2px;">--</div>
<div class="t" style="top:840.4px;font-size:20.5px;line-height:22.5px;color:#000;left:3466.5px;">现价</div>
<div class="t" style="top:840.5px;font-size:21px;line-height:23px;color:#1A9A1A;left:3567px;letter-spacing:0.8px;">4085.03</div>
<div class="t" style="top:840.5px;font-size:21px;line-height:23px;color:#000;left:3688.4px;letter-spacing:1.4px;">2025-07-22,二</div>
<div class="t" style="top:893.7px;font-size:18.5px;line-height:20.5px;color:#C8232C;right:301.7px;letter-spacing:0.6px;">4126</div>
<div class="t" style="top:893.7px;font-size:18.5px;line-height:20.5px;color:#C8232C;left:3765.8px;letter-spacing:0.4px;">1.00%</div>
<div class="t" style="top:932.7px;font-size:18.5px;line-height:20.5px;color:#C8232C;right:301.7px;letter-spacing:0.6px;">4122</div>
<div class="t" style="top:932.7px;font-size:18.5px;line-height:20.5px;color:#C8232C;left:3765.8px;letter-spacing:0.4px;">0.89%</div>
<div class="t" style="top:971.8px;font-size:18.5px;line-height:20.5px;color:#C8232C;right:301.7px;letter-spacing:0.9px;">4117</div>
<div class="t" style="top:971.8px;font-size:18.5px;line-height:20.5px;color:#C8232C;left:3765.8px;letter-spacing:0.4px;">0.78%</div>
<div class="t" style="top:1010.8px;font-size:18.5px;line-height:20.5px;color:#C8232C;right:301.7px;letter-spacing:0.9px;">4113</div>
<div class="t" style="top:1010.8px;font-size:18.5px;line-height:20.5px;color:#C8232C;left:3765.8px;letter-spacing:0.4px;">0.67%</div>
<div class="t" style="top:1049.9px;font-size:18.5px;line-height:20.5px;color:#C8232C;right:301.7px;letter-spacing:0.6px;">4108</div>
<div class="t" style="top:1049.9px;font-size:18.5px;line-height:20.5px;color:#C8232C;left:3765.8px;letter-spacing:0.4px;">0.56%</div>
<div class="t" style="top:1089px;font-size:18.5px;line-height:20.5px;color:#C8232C;right:301.7px;letter-spacing:0.6px;">4104</div>
<div class="t" style="top:1089px;font-size:18.5px;line-height:20.5px;color:#C8232C;left:3765.8px;letter-spacing:0.4px;">0.44%</div>
<div class="t" style="top:1128px;font-size:18.5px;line-height:20.5px;color:#C8232C;right:301.7px;letter-spacing:0.6px;">4099</div>
<div class="t" style="top:1128px;font-size:18.5px;line-height:20.5px;color:#C8232C;left:3765.8px;letter-spacing:0.4px;">0.33%</div>
<div class="t" style="top:1167.1px;font-size:18.5px;line-height:20.5px;color:#C8232C;right:301.7px;letter-spacing:0.6px;">4095</div>
<div class="t" style="top:1167.1px;font-size:18.5px;line-height:20.5px;color:#C8232C;left:3765.8px;letter-spacing:0.4px;">0.22%</div>
<div class="t" style="top:1206.1px;font-size:18.5px;line-height:20.5px;color:#C8232C;right:301.7px;letter-spacing:0.6px;">4090</div>
<div class="t" style="top:1206.1px;font-size:18.5px;line-height:20.5px;color:#C8232C;left:3765.8px;letter-spacing:0.7px;">0.11%</div>
<div class="t" style="top:1245.2px;font-size:18.5px;line-height:20.5px;color:#000;right:301.7px;letter-spacing:0.6px;">4086</div>
<div class="t" style="top:1245.2px;font-size:18.5px;line-height:20.5px;color:#000;left:3765.8px;letter-spacing:0.4px;">0.00%</div>
<div class="t" style="top:1284.3px;font-size:18.5px;line-height:20.5px;color:#1A9A1A;right:301.7px;letter-spacing:0.6px;">4081</div>
<div class="t" style="top:1284.3px;font-size:18.5px;line-height:20.5px;color:#1A9A1A;left:3765.8px;letter-spacing:0.7px;">0.11%</div>
<div class="t" style="top:1323.3px;font-size:18.5px;line-height:20.5px;color:#1A9A1A;right:301.7px;letter-spacing:0.6px;">4077</div>
<div class="t" style="top:1323.3px;font-size:18.5px;line-height:20.5px;color:#1A9A1A;left:3765.8px;letter-spacing:0.4px;">0.22%</div>
<div class="t" style="top:1362.4px;font-size:18.5px;line-height:20.5px;color:#1A9A1A;right:301.7px;letter-spacing:0.6px;">4072</div>
<div class="t" style="top:1362.4px;font-size:18.5px;line-height:20.5px;color:#1A9A1A;left:3765.8px;letter-spacing:0.4px;">0.33%</div>
<div class="t" style="top:1401.4px;font-size:18.5px;line-height:20.5px;color:#1A9A1A;right:301.7px;letter-spacing:0.6px;">4067</div>
<div class="t" style="top:1401.4px;font-size:18.5px;line-height:20.5px;color:#1A9A1A;left:3765.8px;letter-spacing:0.4px;">0.44%</div>
<div class="t" style="top:1440.5px;font-size:18.5px;line-height:20.5px;color:#1A9A1A;right:301.7px;letter-spacing:0.6px;">4063</div>
<div class="t" style="top:1440.5px;font-size:18.5px;line-height:20.5px;color:#1A9A1A;left:3765.8px;letter-spacing:0.4px;">0.56%</div>
<div class="t" style="top:1479.6px;font-size:18.5px;line-height:20.5px;color:#1A9A1A;right:301.7px;letter-spacing:0.6px;">4058</div>
<div class="t" style="top:1479.6px;font-size:18.5px;line-height:20.5px;color:#1A9A1A;left:3765.8px;letter-spacing:0.4px;">0.67%</div>
<div class="t" style="top:1518.6px;font-size:18.5px;line-height:20.5px;color:#1A9A1A;right:301.7px;letter-spacing:0.6px;">4054</div>
<div class="t" style="top:1518.6px;font-size:18.5px;line-height:20.5px;color:#1A9A1A;left:3765.8px;letter-spacing:0.4px;">0.78%</div>
<div class="t" style="top:1557.7px;font-size:18.5px;line-height:20.5px;color:#1A9A1A;right:301.7px;letter-spacing:0.6px;">4049</div>
<div class="t" style="top:1557.7px;font-size:18.5px;line-height:20.5px;color:#1A9A1A;left:3765.8px;letter-spacing:0.4px;">0.89%</div>
<div class="t" style="top:1596.7px;font-size:18.5px;line-height:20.5px;color:#1A9A1A;right:301.7px;letter-spacing:0.6px;">4045</div>
<div class="t" style="top:1596.7px;font-size:18.5px;line-height:20.5px;color:#1A9A1A;left:3765.8px;letter-spacing:0.4px;">1.00%</div>
<div class="t" style="top:1639.7px;font-size:18.5px;line-height:20.5px;color:#1E8C9A;right:301.7px;">0</div>
<div class="t" style="top:1682px;font-size:18.5px;line-height:20.5px;color:#1E8C9A;right:301.7px;">0</div>
<div class="t" style="top:1723.9px;font-size:18.5px;line-height:20.5px;color:#1E8C9A;right:301.7px;">0</div>
<div class="t" style="top:1765.9px;font-size:18.5px;line-height:20.5px;color:#1E8C9A;right:301.7px;">-0</div>
<div class="t" style="top:1808px;font-size:18.5px;line-height:20.5px;color:#1E8C9A;right:301.7px;">-0</div>
<div class="t" style="top:1849.8px;font-size:18.5px;line-height:20.5px;color:#1E8C9A;right:301.7px;">-0</div>
<div class="t" style="top:1908px;font-size:18.5px;line-height:20.5px;color:#fff;left:3493.7px;transform:translateX(-50%);">分时</div>
<div class="t" style="top:1908px;font-size:18.5px;line-height:20.5px;color:#000;left:3553px;transform:translateX(-50%);">筹码</div>
<div class="t" style="top:1908px;font-size:18.5px;line-height:20.5px;color:#000;left:3612.5px;transform:translateX(-50%);">火焰</div>
</body></html>
